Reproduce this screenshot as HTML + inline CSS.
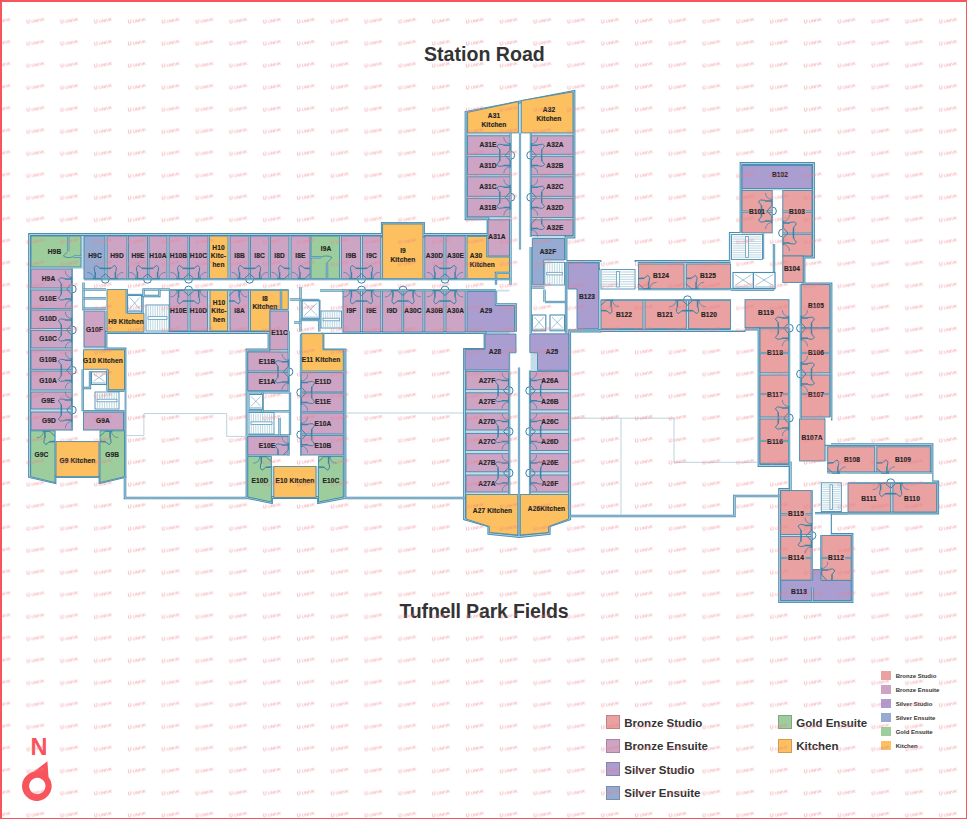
<!DOCTYPE html>
<html><head><meta charset="utf-8"><style>
html,body{margin:0;padding:0;background:#fff;}
body{width:967px;height:819px;position:relative;overflow:hidden;font-family:"Liberation Sans",sans-serif;}
.t{position:absolute;white-space:nowrap;color:#333;font-weight:bold;}
.border{position:absolute;left:0;top:0;width:967px;height:819px;box-sizing:border-box;border-left:2px solid #f7545c;border-top:2px solid #f7545c;border-right:1.5px solid #f7545c;border-bottom:1.5px solid #f7545c;}
</style></head><body>
<svg width="967" height="819" viewBox="0 0 967 819" style="position:absolute;left:0;top:0">
<polygon points="29.5,234.5 488,234.5 488,218.8 466,218.8 466,112.3 574,91.5 574,237 566,237 566,261.5 600,261.5 600,268.5 636,268.5 636,261.5 730.3,261.5 730.3,233.5 741,233.5 741,163.5 813.5,163.5 813.5,257 804,257 804,284 831,284 831,419 826,419 826,444.6 932,444.6 932,482 937.7,482 937.7,513 830.5,513 830.5,534.5 852,534.5 852,601.7 779.6,601.7 779.6,489.5 790,489.5 790,465.5 759,465.5 759,329 744,329 744,330.5 600,330.5 600,331 569.7,331 569.7,519 549.2,526 549.2,533.5 519,536.5 488.8,533.5 488.8,526 464.5,519 464.5,349.5 485,349.5 485,332.5 323,332.5 323,350 345,350 345,497.5 318.5,502.5 318.5,497.5 271.5,497.5 271.5,502.5 247,497.5 247,350 269,350 269,332.5 106,332.5 106,349 125,349 125,476.7 100,482.6 100,476.7 55,476.7 55,482.6 29.5,476.7" fill="#c3dce7" stroke="#4a8db0" stroke-width="2.8" stroke-linejoin="miter"/>
<polygon points="382.3,223.3 423.5,223.3 423.5,236 382.3,236" fill="#c3dce7" stroke="#4a8db0" stroke-width="2.8" stroke-linejoin="miter"/>
<polygon points="29.5,234.5 488,234.5 488,218.8 466,218.8 466,112.3 574,91.5 574,237 566,237 566,261.5 600,261.5 600,268.5 636,268.5 636,261.5 730.3,261.5 730.3,233.5 741,233.5 741,163.5 813.5,163.5 813.5,257 804,257 804,284 831,284 831,419 826,419 826,444.6 932,444.6 932,482 937.7,482 937.7,513 830.5,513 830.5,534.5 852,534.5 852,601.7 779.6,601.7 779.6,489.5 790,489.5 790,465.5 759,465.5 759,329 744,329 744,330.5 600,330.5 600,331 569.7,331 569.7,519 549.2,526 549.2,533.5 519,536.5 488.8,533.5 488.8,526 464.5,519 464.5,349.5 485,349.5 485,332.5 323,332.5 323,350 345,350 345,497.5 318.5,502.5 318.5,497.5 271.5,497.5 271.5,502.5 247,497.5 247,350 269,350 269,332.5 106,332.5 106,349 125,349 125,476.7 100,482.6 100,476.7 55,476.7 55,482.6 29.5,476.7" fill="none" stroke="#b9d6e3" stroke-width="0.9" stroke-linejoin="miter"/>
<polygon points="382.3,223.3 423.5,223.3 423.5,236 382.3,236" fill="none" stroke="#b9d6e3" stroke-width="0.9" stroke-linejoin="miter"/>
<rect x="72" y="279.6" width="438.5" height="10.2" fill="#fff"/>
<rect x="72" y="269" width="11.5" height="172" fill="#fff"/>
<rect x="56" y="430.5" width="44" height="11.1" fill="#fff"/>
<rect x="84" y="289.8" width="23" height="21.2" fill="#fff"/>
<rect x="127.5" y="289.8" width="41" height="23.7" fill="#fff"/>
<rect x="144" y="313.5" width="24.5" height="18.5" fill="#fff"/>
<rect x="83.5" y="369.3" width="24.5" height="42.2" fill="#fff"/>
<rect x="108" y="389.8" width="16.5" height="21.7" fill="#fff"/>
<rect x="288.5" y="289.8" width="54" height="42.7" fill="#fff"/>
<rect x="288.7" y="331" width="12.3" height="135" fill="#fff"/>
<rect x="247.8" y="391" width="43.2" height="45" fill="#fff"/>
<rect x="271.5" y="455" width="47" height="11.4" fill="#fff"/>
<rect x="510.5" y="133" width="20" height="361.3" fill="#fff"/>
<rect x="509.5" y="218.8" width="22.8" height="115.2" fill="#fff"/>
<rect x="496" y="291.4" width="14.5" height="13.6" fill="#fff"/>
<rect x="532" y="285" width="34" height="49" fill="#fff"/>
<rect x="543.7" y="260" width="22.3" height="25" fill="#fff"/>
<rect x="568" y="289" width="9" height="40" fill="#fff"/>
<rect x="600" y="289" width="177" height="10.7" fill="#fff"/>
<rect x="600" y="262" width="38" height="38" fill="#fff"/>
<rect x="730.6" y="262" width="14.4" height="37.7" fill="#fff"/>
<rect x="772.2" y="190.4" width="10.6" height="109.3" fill="#fff"/>
<rect x="730.5" y="233" width="41.7" height="29" fill="#fff"/>
<rect x="789" y="284" width="11.8" height="182" fill="#fff"/>
<rect x="826" y="473.5" width="106" height="9.5" fill="#fff"/>
<rect x="730.6" y="299.7" width="14.4" height="30.3" fill="#fff"/>
<rect x="745" y="259.4" width="28" height="13.1" fill="#fff"/>
<rect x="782" y="282.4" width="18.8" height="17.6" fill="#fff"/>
<rect x="789" y="419" width="10.6" height="47" fill="#fff"/>
<rect x="790" y="461" width="57" height="22" fill="#fff"/>
<rect x="825" y="417" width="6" height="27.6" fill="#fff"/>
<rect x="811.7" y="483" width="9.6" height="86.6" fill="#fff"/>
<rect x="790" y="483" width="31.3" height="7.6" fill="#fff"/>
<rect x="841.6" y="483" width="6.4" height="30" fill="#fff"/>
<rect x="821.3" y="511.5" width="9.2" height="23.9" fill="#fff"/>
<rect x="31" y="236" width="50" height="31" fill="#9dcd9c" stroke="#3f88ab" stroke-width="0.85"/>
<rect x="84" y="236" width="21" height="42.8" fill="#97abd2" stroke="#3f88ab" stroke-width="0.85"/>
<rect x="107" y="236" width="20" height="42.8" fill="#cea4c5" stroke="#3f88ab" stroke-width="0.85"/>
<rect x="128.5" y="236" width="19" height="42.8" fill="#cea4c5" stroke="#3f88ab" stroke-width="0.85"/>
<rect x="149" y="236" width="18" height="42.8" fill="#cea4c5" stroke="#3f88ab" stroke-width="0.85"/>
<rect x="169" y="236" width="19" height="42.8" fill="#cea4c5" stroke="#3f88ab" stroke-width="0.85"/>
<rect x="189.5" y="236" width="18.5" height="42.8" fill="#cea4c5" stroke="#3f88ab" stroke-width="0.85"/>
<rect x="209.5" y="236" width="18.5" height="42.8" fill="#fcc060" stroke="#3f88ab" stroke-width="0.85"/>
<rect x="230" y="236" width="19" height="42.8" fill="#cea4c5" stroke="#3f88ab" stroke-width="0.85"/>
<rect x="250.5" y="236" width="18.5" height="42.8" fill="#cea4c5" stroke="#3f88ab" stroke-width="0.85"/>
<rect x="270.5" y="236" width="18.5" height="42.8" fill="#cea4c5" stroke="#3f88ab" stroke-width="0.85"/>
<rect x="291" y="236" width="19" height="42.8" fill="#cea4c5" stroke="#3f88ab" stroke-width="0.85"/>
<rect x="311" y="236" width="28.5" height="42.8" fill="#9dcd9c" stroke="#3f88ab" stroke-width="0.85"/>
<rect x="341.3" y="236" width="19.3" height="42.8" fill="#cea4c5" stroke="#3f88ab" stroke-width="0.85"/>
<rect x="362.4" y="236" width="18.4" height="42.8" fill="#cea4c5" stroke="#3f88ab" stroke-width="0.85"/>
<rect x="382.6" y="224" width="40.4" height="54.8" fill="#fcc060" stroke="#3f88ab" stroke-width="0.85"/>
<rect x="424.8" y="236" width="19.2" height="42.8" fill="#cea4c5" stroke="#3f88ab" stroke-width="0.85"/>
<rect x="445.9" y="236" width="19.3" height="42.8" fill="#cea4c5" stroke="#3f88ab" stroke-width="0.85"/>
<polygon points="467,236.4 486.7,236.4 486.7,257 509.5,257 509.5,278.8 467,278.8" fill="#fcc060" stroke="#3f88ab" stroke-width="0.85"/>
<rect x="488" y="219.8" width="21.6" height="36.2" fill="#cea4c5" stroke="#3f88ab" stroke-width="0.85"/>
<rect x="31" y="269" width="41" height="19" fill="#cea4c5" stroke="#3f88ab" stroke-width="0.85"/>
<rect x="31" y="290" width="41" height="18.6" fill="#cea4c5" stroke="#3f88ab" stroke-width="0.85"/>
<rect x="31" y="310" width="41" height="18.5" fill="#cea4c5" stroke="#3f88ab" stroke-width="0.85"/>
<rect x="31" y="330.5" width="41" height="17.5" fill="#cea4c5" stroke="#3f88ab" stroke-width="0.85"/>
<rect x="31" y="350" width="41" height="19.3" fill="#cea4c5" stroke="#3f88ab" stroke-width="0.85"/>
<rect x="31" y="371" width="41" height="19" fill="#cea4c5" stroke="#3f88ab" stroke-width="0.85"/>
<rect x="31" y="392" width="41" height="17" fill="#cea4c5" stroke="#3f88ab" stroke-width="0.85"/>
<rect x="31" y="412" width="41" height="18" fill="#cea4c5" stroke="#3f88ab" stroke-width="0.85"/>
<rect x="84" y="311" width="21" height="36" fill="#cea4c5" stroke="#3f88ab" stroke-width="0.85"/>
<polygon points="107,289.5 127.5,289.5 127.5,313.5 144,313.5 144,332 107,332" fill="#fcc060" stroke="#3f88ab" stroke-width="0.85"/>
<rect x="169.7" y="290" width="18.3" height="41" fill="#cea4c5" stroke="#3f88ab" stroke-width="0.85"/>
<rect x="190" y="290" width="17.5" height="41" fill="#cea4c5" stroke="#3f88ab" stroke-width="0.85"/>
<rect x="210" y="290" width="17.7" height="41" fill="#fcc060" stroke="#3f88ab" stroke-width="0.85"/>
<rect x="230" y="290" width="18.7" height="41" fill="#cea4c5" stroke="#3f88ab" stroke-width="0.85"/>
<polygon points="250.5,290 288.3,290 288.3,309.5 270,309.5 270,331 250.5,331" fill="#fcc060" stroke="#3f88ab" stroke-width="0.85"/>
<rect x="270" y="311" width="18.5" height="38.8" fill="#cea4c5" stroke="#3f88ab" stroke-width="0.85"/>
<rect x="343" y="290.6" width="17.6" height="41.4" fill="#cea4c5" stroke="#3f88ab" stroke-width="0.85"/>
<rect x="362.4" y="290.6" width="18.4" height="41.4" fill="#cea4c5" stroke="#3f88ab" stroke-width="0.85"/>
<rect x="382.6" y="290.6" width="19.4" height="41.4" fill="#cea4c5" stroke="#3f88ab" stroke-width="0.85"/>
<rect x="403.7" y="290.6" width="19.3" height="41.4" fill="#cea4c5" stroke="#3f88ab" stroke-width="0.85"/>
<rect x="424.8" y="290.6" width="19.2" height="41.4" fill="#cea4c5" stroke="#3f88ab" stroke-width="0.85"/>
<rect x="445.9" y="290.6" width="19.3" height="41.4" fill="#cea4c5" stroke="#3f88ab" stroke-width="0.85"/>
<polygon points="467,291.4 496,291.4 496,305 514.5,305 514.5,331.8 467,331.8" fill="#aa9dd0" stroke="#3f88ab" stroke-width="0.85"/>
<polygon points="83.5,349.8 124.5,349.8 124.5,389.8 108,389.8 108,369.3 83.5,369.3" fill="#fcc060" stroke="#3f88ab" stroke-width="0.85"/>
<rect x="83.5" y="412" width="40" height="18" fill="#cea4c5" stroke="#3f88ab" stroke-width="0.85"/>
<polygon points="30.7,430.8 55,430.8 55,482.6 30.7,476.7" fill="#9dcd9c" stroke="#3f88ab" stroke-width="0.85"/>
<rect x="56" y="441.6" width="43" height="35.1" fill="#fcc060" stroke="#3f88ab" stroke-width="0.85"/>
<polygon points="100,430.8 124.5,430.8 124.5,476.7 100,482.6" fill="#9dcd9c" stroke="#3f88ab" stroke-width="0.85"/>
<rect x="247.8" y="352" width="40.9" height="19" fill="#cea4c5" stroke="#3f88ab" stroke-width="0.85"/>
<rect x="247.8" y="372.6" width="40.9" height="18.1" fill="#cea4c5" stroke="#3f88ab" stroke-width="0.85"/>
<rect x="247.8" y="436.6" width="40.9" height="18.4" fill="#cea4c5" stroke="#3f88ab" stroke-width="0.85"/>
<polygon points="247.8,456.5 271.4,456.5 271.4,502 247.8,497" fill="#9dcd9c" stroke="#3f88ab" stroke-width="0.85"/>
<rect x="273.8" y="466.4" width="42.2" height="31" fill="#fcc060" stroke="#3f88ab" stroke-width="0.85"/>
<polygon points="318.5,456.5 343.3,456.5 343.3,497 318.5,502" fill="#9dcd9c" stroke="#3f88ab" stroke-width="0.85"/>
<polygon points="301,333.6 323,333.6 323,349.8 343.3,349.8 343.3,371 301,371" fill="#fcc060" stroke="#3f88ab" stroke-width="0.85"/>
<rect x="301" y="372.6" width="42.3" height="19.4" fill="#cea4c5" stroke="#3f88ab" stroke-width="0.85"/>
<rect x="301" y="393" width="42.3" height="18.8" fill="#cea4c5" stroke="#3f88ab" stroke-width="0.85"/>
<rect x="301" y="413" width="42.3" height="21" fill="#cea4c5" stroke="#3f88ab" stroke-width="0.85"/>
<rect x="301" y="435.4" width="42.3" height="19.6" fill="#cea4c5" stroke="#3f88ab" stroke-width="0.85"/>
<polygon points="467.6,112.3 518.4,101.6 518.4,132.9 467.6,132.9" fill="#fcc060" stroke="#3f88ab" stroke-width="0.85"/>
<polygon points="521.3,100.6 573,91.8 573,132.9 521.3,132.9" fill="#fcc060" stroke="#3f88ab" stroke-width="0.85"/>
<rect x="467.6" y="135.8" width="42.9" height="18.5" fill="#cea4c5" stroke="#3f88ab" stroke-width="0.85"/>
<rect x="467.6" y="156.3" width="42.9" height="18.5" fill="#cea4c5" stroke="#3f88ab" stroke-width="0.85"/>
<rect x="467.6" y="176.8" width="42.9" height="19.5" fill="#cea4c5" stroke="#3f88ab" stroke-width="0.85"/>
<rect x="467.6" y="198.3" width="42.9" height="18.5" fill="#cea4c5" stroke="#3f88ab" stroke-width="0.85"/>
<rect x="531" y="135.8" width="42" height="18.5" fill="#cea4c5" stroke="#3f88ab" stroke-width="0.85"/>
<rect x="531" y="156.3" width="42" height="18.5" fill="#cea4c5" stroke="#3f88ab" stroke-width="0.85"/>
<rect x="531" y="176.8" width="42" height="19.5" fill="#cea4c5" stroke="#3f88ab" stroke-width="0.85"/>
<rect x="531" y="198.3" width="42" height="19.2" fill="#cea4c5" stroke="#3f88ab" stroke-width="0.85"/>
<rect x="531" y="219.8" width="42" height="15.6" fill="#cea4c5" stroke="#3f88ab" stroke-width="0.85"/>
<polygon points="532.3,238.5 564.5,238.5 564.5,260 543.7,260 543.7,285 532.3,285" fill="#97abd2" stroke="#3f88ab" stroke-width="0.85"/>
<polygon points="485,334 516,334 516,352.8 509.3,352.8 509.3,370 465,370 465,349.5 485,349.5" fill="#aa9dd0" stroke="#3f88ab" stroke-width="0.85"/>
<polygon points="529.8,333.8 568.8,333.8 568.8,370.3 537.5,370.3 537.5,352.6 529.8,352.6" fill="#aa9dd0" stroke="#3f88ab" stroke-width="0.85"/>
<rect x="466" y="371.4" width="42.8" height="18.2" fill="#cea4c5" stroke="#3f88ab" stroke-width="0.85"/>
<rect x="466" y="392.8" width="42.8" height="17.1" fill="#cea4c5" stroke="#3f88ab" stroke-width="0.85"/>
<rect x="466" y="413" width="42.8" height="17" fill="#cea4c5" stroke="#3f88ab" stroke-width="0.85"/>
<rect x="466" y="433.4" width="42.8" height="17.1" fill="#cea4c5" stroke="#3f88ab" stroke-width="0.85"/>
<rect x="466" y="453.7" width="42.8" height="18.1" fill="#cea4c5" stroke="#3f88ab" stroke-width="0.85"/>
<rect x="466" y="475" width="42.8" height="17" fill="#cea4c5" stroke="#3f88ab" stroke-width="0.85"/>
<rect x="530" y="371.4" width="38.6" height="18.2" fill="#cea4c5" stroke="#3f88ab" stroke-width="0.85"/>
<rect x="530" y="392.8" width="38.6" height="17.1" fill="#cea4c5" stroke="#3f88ab" stroke-width="0.85"/>
<rect x="530" y="413" width="38.6" height="17" fill="#cea4c5" stroke="#3f88ab" stroke-width="0.85"/>
<rect x="530" y="433.4" width="38.6" height="17.1" fill="#cea4c5" stroke="#3f88ab" stroke-width="0.85"/>
<rect x="530" y="453.7" width="38.6" height="18.1" fill="#cea4c5" stroke="#3f88ab" stroke-width="0.85"/>
<rect x="530" y="475" width="38.6" height="17" fill="#cea4c5" stroke="#3f88ab" stroke-width="0.85"/>
<polygon points="466,494.5 517.8,494.5 517.8,535 489.3,532.5 489.3,526.5 466,519" fill="#fcc060" stroke="#3f88ab" stroke-width="0.85"/>
<polygon points="520.3,494.5 568.6,494.5 568.6,519 548.7,526.5 548.7,532.5 520.3,535" fill="#fcc060" stroke="#3f88ab" stroke-width="0.85"/>
<polygon points="568,262.8 598.7,262.8 598.7,328.7 577,328.7 577,289 568,289" fill="#aa9dd0" stroke="#3f88ab" stroke-width="0.85"/>
<rect x="638.5" y="264" width="45.5" height="25" fill="#e9a1a1" stroke="#3f88ab" stroke-width="0.85"/>
<rect x="686.3" y="264" width="44.3" height="25" fill="#e9a1a1" stroke="#3f88ab" stroke-width="0.85"/>
<rect x="601" y="300" width="42" height="28.7" fill="#e9a1a1" stroke="#3f88ab" stroke-width="0.85"/>
<rect x="645" y="300" width="41.3" height="28.7" fill="#e9a1a1" stroke="#3f88ab" stroke-width="0.85"/>
<rect x="688.6" y="300" width="42" height="28.7" fill="#e9a1a1" stroke="#3f88ab" stroke-width="0.85"/>
<rect x="742" y="165.6" width="70" height="23" fill="#aa9dd0" stroke="#3f88ab" stroke-width="0.85"/>
<rect x="742" y="190.4" width="30.2" height="42.5" fill="#e9a1a1" stroke="#3f88ab" stroke-width="0.85"/>
<rect x="782.8" y="190.4" width="29.2" height="65.6" fill="#e9a1a1" stroke="#3f88ab" stroke-width="0.85"/>
<rect x="782.8" y="256" width="20.4" height="26.4" fill="#e9a1a1" stroke="#3f88ab" stroke-width="0.85"/>
<rect x="745" y="299.7" width="44" height="27.9" fill="#e9a1a1" stroke="#3f88ab" stroke-width="0.85"/>
<rect x="760" y="328.7" width="29" height="44.1" fill="#e9a1a1" stroke="#3f88ab" stroke-width="0.85"/>
<rect x="760" y="375" width="29" height="42" fill="#e9a1a1" stroke="#3f88ab" stroke-width="0.85"/>
<rect x="760" y="419" width="29" height="44.3" fill="#e9a1a1" stroke="#3f88ab" stroke-width="0.85"/>
<rect x="800.8" y="284.6" width="29" height="43" fill="#e9a1a1" stroke="#3f88ab" stroke-width="0.85"/>
<rect x="800.8" y="328.7" width="29" height="44.1" fill="#e9a1a1" stroke="#3f88ab" stroke-width="0.85"/>
<rect x="800.8" y="375" width="29" height="42" fill="#e9a1a1" stroke="#3f88ab" stroke-width="0.85"/>
<rect x="799.6" y="419" width="25.4" height="42" fill="#e9a1a1" stroke="#3f88ab" stroke-width="0.85"/>
<rect x="827.7" y="446.8" width="47" height="25.7" fill="#e9a1a1" stroke="#3f88ab" stroke-width="0.85"/>
<rect x="876.8" y="446.8" width="53.5" height="25.7" fill="#e9a1a1" stroke="#3f88ab" stroke-width="0.85"/>
<rect x="848" y="483" width="42.7" height="29" fill="#e9a1a1" stroke="#3f88ab" stroke-width="0.85"/>
<rect x="892.9" y="483" width="43.8" height="29" fill="#e9a1a1" stroke="#3f88ab" stroke-width="0.85"/>
<rect x="780.7" y="490.6" width="31" height="43.8" fill="#e9a1a1" stroke="#3f88ab" stroke-width="0.85"/>
<rect x="780.7" y="536.5" width="31" height="43.8" fill="#e9a1a1" stroke="#3f88ab" stroke-width="0.85"/>
<polygon points="780.7,580.3 812.7,580.3 812.7,569.6 821.3,569.6 821.3,580.3 851.2,580.3 851.2,600.6 780.7,600.6" fill="#aa9dd0" stroke="#3f88ab" stroke-width="0.85"/>
<rect x="821.3" y="535.4" width="29.9" height="44.9" fill="#e9a1a1" stroke="#3f88ab" stroke-width="0.85"/>
<polyline points="125,476.7 125,498 247,498" fill="none" stroke="#4a8db0" stroke-width="2.6"/>
<polyline points="125,476.7 125,498 247,498" fill="none" stroke="#b9d6e3" stroke-width="0.9"/>
<polyline points="345,498 464.5,498" fill="none" stroke="#4a8db0" stroke-width="2.6"/>
<polyline points="345,498 464.5,498" fill="none" stroke="#b9d6e3" stroke-width="0.9"/>
<polyline points="569.7,516 734.4,516 734.4,496 779.6,496" fill="none" stroke="#4a8db0" stroke-width="2.6"/>
<polyline points="569.7,516 734.4,516 734.4,496 779.6,496" fill="none" stroke="#b9d6e3" stroke-width="0.9"/>
<polyline points="126.5,435.6 143.9,435.6 143.9,413.6 226.7,413.6 226.7,436.4 247,436.4" fill="none" stroke="#bcd3dc" stroke-width="1"/>
<polyline points="346,413 463,413" fill="none" stroke="#bcd3dc" stroke-width="1"/>
<polyline points="571,418.2 674,418.2 674,462.3 758,462.3" fill="none" stroke="#bcd3dc" stroke-width="1"/>
<polyline points="621,418.2 621,515" fill="none" stroke="#bcd3dc" stroke-width="1"/>
<polyline points="812.4,587.4 812.4,601" fill="none" stroke="#3f88ab" stroke-width="2.3"/>
<polyline points="812.4,587.4 812.4,601" fill="none" stroke="#cfe4ee" stroke-width="0.7"/>
<polyline points="790.5,461.6 790.5,490" fill="none" stroke="#3f88ab" stroke-width="2.3"/>
<polyline points="790.5,461.6 790.5,490" fill="none" stroke="#cfe4ee" stroke-width="0.7"/>
<polyline points="815,513.2 848,513.2" fill="none" stroke="#3f88ab" stroke-width="2.3"/>
<polyline points="815,513.2 848,513.2" fill="none" stroke="#cfe4ee" stroke-width="0.7"/>
<polyline points="310.5,257.2 321,257.2" fill="none" stroke="#3f88ab" stroke-width="2.3"/>
<polyline points="310.5,257.2 321,257.2" fill="none" stroke="#cfe4ee" stroke-width="0.7"/>
<polyline points="327,263 327,278.5" fill="none" stroke="#3f88ab" stroke-width="2.3"/>
<polyline points="327,263 327,278.5" fill="none" stroke="#cfe4ee" stroke-width="0.7"/>
<polyline points="68.2,236 68.2,251" fill="none" stroke="#3f88ab" stroke-width="2.3"/>
<polyline points="68.2,236 68.2,251" fill="none" stroke="#cfe4ee" stroke-width="0.7"/>
<polyline points="73.5,256.6 81,256.6" fill="none" stroke="#3f88ab" stroke-width="2.3"/>
<polyline points="73.5,256.6 81,256.6" fill="none" stroke="#cfe4ee" stroke-width="0.7"/>
<polyline points="530.7,287.5 544.5,287.5" fill="none" stroke="#3f88ab" stroke-width="2.3"/>
<polyline points="530.7,287.5 544.5,287.5" fill="none" stroke="#cfe4ee" stroke-width="0.7"/>
<polyline points="544.5,289.6 544.5,302" fill="none" stroke="#3f88ab" stroke-width="2.3"/>
<polyline points="544.5,289.6 544.5,302" fill="none" stroke="#cfe4ee" stroke-width="0.7"/>
<polyline points="545,302 566,302" fill="none" stroke="#3f88ab" stroke-width="2.3"/>
<polyline points="545,302 566,302" fill="none" stroke="#cfe4ee" stroke-width="0.7"/>
<polyline points="566,262 566,333" fill="none" stroke="#3f88ab" stroke-width="2.3"/>
<polyline points="566,262 566,333" fill="none" stroke="#cfe4ee" stroke-width="0.7"/>
<polyline points="300.5,287 300.5,331.5" fill="none" stroke="#3f88ab" stroke-width="2.3"/>
<polyline points="300.5,287 300.5,331.5" fill="none" stroke="#cfe4ee" stroke-width="0.7"/>
<polyline points="319.3,300 319.3,331.5" fill="none" stroke="#3f88ab" stroke-width="2.3"/>
<polyline points="319.3,300 319.3,331.5" fill="none" stroke="#cfe4ee" stroke-width="0.7"/>
<polyline points="320,290.5 343,290.5" fill="none" stroke="#3f88ab" stroke-width="2.3"/>
<polyline points="320,290.5 343,290.5" fill="none" stroke="#cfe4ee" stroke-width="0.7"/>
<polyline points="289.8,299.5 300.5,299.5" fill="none" stroke="#3f88ab" stroke-width="2.3"/>
<polyline points="289.8,299.5 300.5,299.5" fill="none" stroke="#cfe4ee" stroke-width="0.7"/>
<polyline points="300.5,300 319.3,300" fill="none" stroke="#3f88ab" stroke-width="2.3"/>
<polyline points="300.5,300 319.3,300" fill="none" stroke="#cfe4ee" stroke-width="0.7"/>
<polyline points="300.5,320 319.3,320" fill="none" stroke="#3f88ab" stroke-width="2.3"/>
<polyline points="300.5,320 319.3,320" fill="none" stroke="#cfe4ee" stroke-width="0.7"/>
<polyline points="294,322.5 300.5,322.5" fill="none" stroke="#3f88ab" stroke-width="2.3"/>
<polyline points="294,322.5 300.5,322.5" fill="none" stroke="#cfe4ee" stroke-width="0.7"/>
<polyline points="82.7,369.3 82.7,411" fill="none" stroke="#3f88ab" stroke-width="2.3"/>
<polyline points="82.7,369.3 82.7,411" fill="none" stroke="#cfe4ee" stroke-width="0.7"/>
<polyline points="107.5,369.8 107.5,391" fill="none" stroke="#3f88ab" stroke-width="2.3"/>
<polyline points="107.5,369.8 107.5,391" fill="none" stroke="#cfe4ee" stroke-width="0.7"/>
<polyline points="107.5,390.8 124.5,390.8" fill="none" stroke="#3f88ab" stroke-width="2.3"/>
<polyline points="107.5,390.8 124.5,390.8" fill="none" stroke="#cfe4ee" stroke-width="0.7"/>
<polyline points="82.7,411.2 124.5,411.2" fill="none" stroke="#3f88ab" stroke-width="2.3"/>
<polyline points="82.7,411.2 124.5,411.2" fill="none" stroke="#cfe4ee" stroke-width="0.7"/>
<polyline points="82.7,388 90,388 90,371" fill="none" stroke="#3f88ab" stroke-width="2.3"/>
<polyline points="82.7,388 90,388 90,371" fill="none" stroke="#cfe4ee" stroke-width="0.7"/>
<polyline points="290,392.4 290,435" fill="none" stroke="#3f88ab" stroke-width="2.3"/>
<polyline points="290,392.4 290,435" fill="none" stroke="#cfe4ee" stroke-width="0.7"/>
<polyline points="248,392.4 290,392.4" fill="none" stroke="#3f88ab" stroke-width="2.3"/>
<polyline points="248,392.4 290,392.4" fill="none" stroke="#cfe4ee" stroke-width="0.7"/>
<polyline points="248,411.4 290,411.4" fill="none" stroke="#3f88ab" stroke-width="2.3"/>
<polyline points="248,411.4 290,411.4" fill="none" stroke="#cfe4ee" stroke-width="0.7"/>
<polyline points="248,435.3 290,435.3" fill="none" stroke="#3f88ab" stroke-width="2.3"/>
<polyline points="248,435.3 290,435.3" fill="none" stroke="#cfe4ee" stroke-width="0.7"/>
<polyline points="262.5,392.4 262.5,411.4" fill="none" stroke="#3f88ab" stroke-width="2.3"/>
<polyline points="262.5,392.4 262.5,411.4" fill="none" stroke="#cfe4ee" stroke-width="0.7"/>
<polyline points="279.5,418 279.5,435.3" fill="none" stroke="#3f88ab" stroke-width="2.3"/>
<polyline points="279.5,418 279.5,435.3" fill="none" stroke="#cfe4ee" stroke-width="0.7"/>
<polyline points="83.5,282.5 83.5,310.5" fill="none" stroke="#3f88ab" stroke-width="2.3"/>
<polyline points="83.5,282.5 83.5,310.5" fill="none" stroke="#cfe4ee" stroke-width="0.7"/>
<polyline points="83.5,289.5 106,289.5" fill="none" stroke="#3f88ab" stroke-width="2.3"/>
<polyline points="83.5,289.5 106,289.5" fill="none" stroke="#cfe4ee" stroke-width="0.7"/>
<polyline points="83.5,298.4 106,298.4" fill="none" stroke="#3f88ab" stroke-width="2.3"/>
<polyline points="83.5,298.4 106,298.4" fill="none" stroke="#cfe4ee" stroke-width="0.7"/>
<polyline points="83.5,308.6 106,308.6" fill="none" stroke="#3f88ab" stroke-width="2.3"/>
<polyline points="83.5,308.6 106,308.6" fill="none" stroke="#cfe4ee" stroke-width="0.7"/>
<polyline points="126.8,289.5 126.8,313.5" fill="none" stroke="#3f88ab" stroke-width="2.3"/>
<polyline points="126.8,289.5 126.8,313.5" fill="none" stroke="#cfe4ee" stroke-width="0.7"/>
<polyline points="127,295 142.5,295" fill="none" stroke="#3f88ab" stroke-width="2.3"/>
<polyline points="127,295 142.5,295" fill="none" stroke="#cfe4ee" stroke-width="0.7"/>
<polyline points="142.5,295 142.5,313.5" fill="none" stroke="#3f88ab" stroke-width="2.3"/>
<polyline points="142.5,295 142.5,313.5" fill="none" stroke="#cfe4ee" stroke-width="0.7"/>
<polyline points="142.5,289.5 170,289.5" fill="none" stroke="#3f88ab" stroke-width="2.3"/>
<polyline points="142.5,289.5 170,289.5" fill="none" stroke="#cfe4ee" stroke-width="0.7"/>
<polyline points="143.5,289.5 143.5,296 159.4,296 159.4,289.5" fill="none" stroke="#3f88ab" stroke-width="2.3"/>
<polyline points="143.5,289.5 143.5,296 159.4,296 159.4,289.5" fill="none" stroke="#cfe4ee" stroke-width="0.7"/>
<polyline points="731,289.5 774,289.5" fill="none" stroke="#3f88ab" stroke-width="2.3"/>
<polyline points="731,289.5 774,289.5" fill="none" stroke="#cfe4ee" stroke-width="0.7"/>
<polyline points="774,244 774,289.5" fill="none" stroke="#3f88ab" stroke-width="2.3"/>
<polyline points="774,244 774,289.5" fill="none" stroke="#cfe4ee" stroke-width="0.7"/>
<polyline points="763,233.5 763,259" fill="none" stroke="#3f88ab" stroke-width="2.3"/>
<polyline points="763,233.5 763,259" fill="none" stroke="#cfe4ee" stroke-width="0.7"/>
<polyline points="281,290 281,309.5" fill="none" stroke="#3f88ab" stroke-width="2.3"/>
<polyline points="281,290 281,309.5" fill="none" stroke="#cfe4ee" stroke-width="0.7"/>
<polyline points="530.7,247 530.7,333" fill="none" stroke="#3f88ab" stroke-width="2.3"/>
<polyline points="530.7,247 530.7,333" fill="none" stroke="#cfe4ee" stroke-width="0.7"/>
<polyline points="510.5,218.8 510.5,284.7" fill="none" stroke="#3f88ab" stroke-width="2.3"/>
<polyline points="510.5,218.8 510.5,284.7" fill="none" stroke="#cfe4ee" stroke-width="0.7"/>
<polyline points="496,284.7 496,272.9 509.6,272.9" fill="none" stroke="#3f88ab" stroke-width="2.3"/>
<polyline points="496,284.7 496,272.9 509.6,272.9" fill="none" stroke="#cfe4ee" stroke-width="0.7"/>
<polyline points="496,291 496,304.5 515.8,304.5 515.8,332" fill="none" stroke="#3f88ab" stroke-width="2.3"/>
<polyline points="496,291 496,304.5 515.8,304.5 515.8,332" fill="none" stroke="#cfe4ee" stroke-width="0.7"/>
<polyline points="288.7,331 288.7,352" fill="none" stroke="#3f88ab" stroke-width="2.3"/>
<polyline points="288.7,331 288.7,352" fill="none" stroke="#cfe4ee" stroke-width="0.7"/>
<polyline points="301,334 301,372" fill="none" stroke="#3f88ab" stroke-width="2.3"/>
<polyline points="301,334 301,372" fill="none" stroke="#cfe4ee" stroke-width="0.7"/>
<polyline points="84,279.2 510.5,279.2" fill="none" stroke="#3f88ab" stroke-width="2.0"/>
<polyline points="84,279.2 510.5,279.2" fill="none" stroke="#d5e8f0" stroke-width="0.55"/>
<polyline points="169,290 288.5,290" fill="none" stroke="#3f88ab" stroke-width="2.0"/>
<polyline points="169,290 288.5,290" fill="none" stroke="#d5e8f0" stroke-width="0.55"/>
<polyline points="342.5,290.3 496,290.3" fill="none" stroke="#3f88ab" stroke-width="2.0"/>
<polyline points="342.5,290.3 496,290.3" fill="none" stroke="#d5e8f0" stroke-width="0.55"/>
<polyline points="72,268.5 72,430.5" fill="none" stroke="#3f88ab" stroke-width="2.0"/>
<polyline points="72,268.5 72,430.5" fill="none" stroke="#d5e8f0" stroke-width="0.55"/>
<polyline points="288.7,352 288.7,391" fill="none" stroke="#3f88ab" stroke-width="2.0"/>
<polyline points="288.7,352 288.7,391" fill="none" stroke="#d5e8f0" stroke-width="0.55"/>
<polyline points="288.7,436 288.7,455.5" fill="none" stroke="#3f88ab" stroke-width="2.0"/>
<polyline points="288.7,436 288.7,455.5" fill="none" stroke="#d5e8f0" stroke-width="0.55"/>
<polyline points="301,372 301,455.5" fill="none" stroke="#3f88ab" stroke-width="2.0"/>
<polyline points="301,372 301,455.5" fill="none" stroke="#d5e8f0" stroke-width="0.55"/>
<polyline points="510.6,133 510.6,218" fill="none" stroke="#3f88ab" stroke-width="2.0"/>
<polyline points="510.6,133 510.6,218" fill="none" stroke="#d5e8f0" stroke-width="0.55"/>
<polyline points="530.8,133 530.8,237" fill="none" stroke="#3f88ab" stroke-width="2.0"/>
<polyline points="530.8,133 530.8,237" fill="none" stroke="#d5e8f0" stroke-width="0.55"/>
<polyline points="509.2,370.5 509.2,494.5" fill="none" stroke="#3f88ab" stroke-width="2.0"/>
<polyline points="509.2,370.5 509.2,494.5" fill="none" stroke="#d5e8f0" stroke-width="0.55"/>
<polyline points="529.9,370.5 529.9,494.5" fill="none" stroke="#3f88ab" stroke-width="2.0"/>
<polyline points="529.9,370.5 529.9,494.5" fill="none" stroke="#d5e8f0" stroke-width="0.55"/>
<polyline points="638,289.2 731,289.2" fill="none" stroke="#3f88ab" stroke-width="2.0"/>
<polyline points="638,289.2 731,289.2" fill="none" stroke="#d5e8f0" stroke-width="0.55"/>
<polyline points="601,299.9 731,299.9" fill="none" stroke="#3f88ab" stroke-width="2.0"/>
<polyline points="601,299.9 731,299.9" fill="none" stroke="#d5e8f0" stroke-width="0.55"/>
<polyline points="789.2,328 789.2,465.5" fill="none" stroke="#3f88ab" stroke-width="2.0"/>
<polyline points="789.2,328 789.2,465.5" fill="none" stroke="#d5e8f0" stroke-width="0.55"/>
<polyline points="800.7,284 800.7,419" fill="none" stroke="#3f88ab" stroke-width="2.0"/>
<polyline points="800.7,284 800.7,419" fill="none" stroke="#d5e8f0" stroke-width="0.55"/>
<polyline points="811.8,490 811.8,580.5" fill="none" stroke="#3f88ab" stroke-width="2.0"/>
<polyline points="811.8,490 811.8,580.5" fill="none" stroke="#d5e8f0" stroke-width="0.55"/>
<polyline points="821.2,535 821.2,580.5" fill="none" stroke="#3f88ab" stroke-width="2.0"/>
<polyline points="821.2,535 821.2,580.5" fill="none" stroke="#d5e8f0" stroke-width="0.55"/>
<polyline points="827.5,472.6 932,472.6" fill="none" stroke="#3f88ab" stroke-width="2.0"/>
<polyline points="827.5,472.6 932,472.6" fill="none" stroke="#d5e8f0" stroke-width="0.55"/>
<polyline points="848,482.9 937.5,482.9" fill="none" stroke="#3f88ab" stroke-width="2.0"/>
<polyline points="848,482.9 937.5,482.9" fill="none" stroke="#d5e8f0" stroke-width="0.55"/>
<line x1="742" y1="211.6" x2="748.5" y2="211.6" stroke="#3f88ab" stroke-width="2.1"/>
<line x1="742" y1="211.6" x2="748.5" y2="211.6" stroke="#cfe4ee" stroke-width="0.6"/>
<line x1="766.2" y1="211.6" x2="772.2" y2="211.6" stroke="#3f88ab" stroke-width="2.1"/>
<line x1="766.2" y1="211.6" x2="772.2" y2="211.6" stroke="#cfe4ee" stroke-width="0.6"/>
<line x1="782.8" y1="211.6" x2="789.3" y2="211.6" stroke="#3f88ab" stroke-width="2.1"/>
<line x1="782.8" y1="211.6" x2="789.3" y2="211.6" stroke="#cfe4ee" stroke-width="0.6"/>
<line x1="806" y1="211.6" x2="812" y2="211.6" stroke="#3f88ab" stroke-width="2.1"/>
<line x1="806" y1="211.6" x2="812" y2="211.6" stroke="#cfe4ee" stroke-width="0.6"/>
<line x1="760" y1="353" x2="766.5" y2="353" stroke="#3f88ab" stroke-width="2.1"/>
<line x1="760" y1="353" x2="766.5" y2="353" stroke="#cfe4ee" stroke-width="0.6"/>
<line x1="783" y1="353" x2="789" y2="353" stroke="#3f88ab" stroke-width="2.1"/>
<line x1="783" y1="353" x2="789" y2="353" stroke="#cfe4ee" stroke-width="0.6"/>
<line x1="760" y1="394" x2="766.5" y2="394" stroke="#3f88ab" stroke-width="2.1"/>
<line x1="760" y1="394" x2="766.5" y2="394" stroke="#cfe4ee" stroke-width="0.6"/>
<line x1="783" y1="394" x2="789" y2="394" stroke="#3f88ab" stroke-width="2.1"/>
<line x1="783" y1="394" x2="789" y2="394" stroke="#cfe4ee" stroke-width="0.6"/>
<line x1="760" y1="441" x2="766.5" y2="441" stroke="#3f88ab" stroke-width="2.1"/>
<line x1="760" y1="441" x2="766.5" y2="441" stroke="#cfe4ee" stroke-width="0.6"/>
<line x1="783" y1="441" x2="789" y2="441" stroke="#3f88ab" stroke-width="2.1"/>
<line x1="783" y1="441" x2="789" y2="441" stroke="#cfe4ee" stroke-width="0.6"/>
<line x1="800.8" y1="353" x2="807.3" y2="353" stroke="#3f88ab" stroke-width="2.1"/>
<line x1="800.8" y1="353" x2="807.3" y2="353" stroke="#cfe4ee" stroke-width="0.6"/>
<line x1="823.8" y1="353" x2="829.8" y2="353" stroke="#3f88ab" stroke-width="2.1"/>
<line x1="823.8" y1="353" x2="829.8" y2="353" stroke="#cfe4ee" stroke-width="0.6"/>
<line x1="800.8" y1="394" x2="807.3" y2="394" stroke="#3f88ab" stroke-width="2.1"/>
<line x1="800.8" y1="394" x2="807.3" y2="394" stroke="#cfe4ee" stroke-width="0.6"/>
<line x1="823.8" y1="394" x2="829.8" y2="394" stroke="#3f88ab" stroke-width="2.1"/>
<line x1="823.8" y1="394" x2="829.8" y2="394" stroke="#cfe4ee" stroke-width="0.6"/>
<line x1="780.7" y1="514.3" x2="787.2" y2="514.3" stroke="#3f88ab" stroke-width="2.1"/>
<line x1="780.7" y1="514.3" x2="787.2" y2="514.3" stroke="#cfe4ee" stroke-width="0.6"/>
<line x1="805.7" y1="514.3" x2="811.7" y2="514.3" stroke="#3f88ab" stroke-width="2.1"/>
<line x1="805.7" y1="514.3" x2="811.7" y2="514.3" stroke="#cfe4ee" stroke-width="0.6"/>
<line x1="780.7" y1="558" x2="787.2" y2="558" stroke="#3f88ab" stroke-width="2.1"/>
<line x1="780.7" y1="558" x2="787.2" y2="558" stroke="#cfe4ee" stroke-width="0.6"/>
<line x1="805.7" y1="558" x2="811.7" y2="558" stroke="#3f88ab" stroke-width="2.1"/>
<line x1="805.7" y1="558" x2="811.7" y2="558" stroke="#cfe4ee" stroke-width="0.6"/>
<line x1="821.3" y1="558" x2="827.8" y2="558" stroke="#3f88ab" stroke-width="2.1"/>
<line x1="821.3" y1="558" x2="827.8" y2="558" stroke="#cfe4ee" stroke-width="0.6"/>
<line x1="845.2" y1="558" x2="851.2" y2="558" stroke="#3f88ab" stroke-width="2.1"/>
<line x1="845.2" y1="558" x2="851.2" y2="558" stroke="#cfe4ee" stroke-width="0.6"/>
<polyline points="782.8,233.8 812,233.8" fill="none" stroke="#3f88ab" stroke-width="2.3"/>
<polyline points="782.8,233.8 812,233.8" fill="none" stroke="#cfe4ee" stroke-width="0.7"/>
<polyline points="520,133 520,249.5" fill="none" stroke="#4a8db0" stroke-width="2.2"/>
<polyline points="520,133 520,249.5" fill="none" stroke="#c9e0ea" stroke-width="0.8"/>
<polyline points="519,367.5 519,536" fill="none" stroke="#4a8db0" stroke-width="2.2"/>
<polyline points="519,367.5 519,536" fill="none" stroke="#c9e0ea" stroke-width="0.8"/>
<g transform="translate(105.3,279)" fill="none" stroke="#3a83a7"><path d="M-9.3,-13.7L-11.1,-11.4L-10.6,-7.2M-9.3,-13.7L-5.7,-10.9M-12.4,-0.3L-4.7,-0.3M-4.7,-1L0,-5.2M9.3,-13.7L11.1,-11.4L10.6,-7.2M9.3,-13.7L5.7,-10.9M12.4,-0.3L4.7,-0.3M4.7,-1L0,-5.2M-3.9,0.3A3.9,3.9 0 0 0 3.9,0.3" stroke-width="1"/><path d="M-10.1,-7.2L-10.1,-0.5M-5.7,-10.8L0,-10.6M10.1,-7.2L10.1,-0.5M5.7,-10.8L0,-10.6" stroke-width="1.5"/><path d="M-18.1,-6.7A6.7,6.7 0 0 1 -11.4,0M18.1,-6.7A6.7,6.7 0 0 0 11.4,0" stroke-width="0.7"/></g>
<g transform="translate(147.5,279)" fill="none" stroke="#3a83a7"><path d="M-9.3,-13.7L-11.1,-11.4L-10.6,-7.2M-9.3,-13.7L-5.7,-10.9M-12.4,-0.3L-4.7,-0.3M-4.7,-1L0,-5.2M9.3,-13.7L11.1,-11.4L10.6,-7.2M9.3,-13.7L5.7,-10.9M12.4,-0.3L4.7,-0.3M4.7,-1L0,-5.2M-3.9,0.3A3.9,3.9 0 0 0 3.9,0.3" stroke-width="1"/><path d="M-10.1,-7.2L-10.1,-0.5M-5.7,-10.8L0,-10.6M10.1,-7.2L10.1,-0.5M5.7,-10.8L0,-10.6" stroke-width="1.5"/><path d="M-18.1,-6.7A6.7,6.7 0 0 1 -11.4,0M18.1,-6.7A6.7,6.7 0 0 0 11.4,0" stroke-width="0.7"/></g>
<g transform="translate(188.6,279)" fill="none" stroke="#3a83a7"><path d="M-9.3,-13.7L-11.1,-11.4L-10.6,-7.2M-9.3,-13.7L-5.7,-10.9M-12.4,-0.3L-4.7,-0.3M-4.7,-1L0,-5.2M9.3,-13.7L11.1,-11.4L10.6,-7.2M9.3,-13.7L5.7,-10.9M12.4,-0.3L4.7,-0.3M4.7,-1L0,-5.2M-3.9,0.3A3.9,3.9 0 0 0 3.9,0.3" stroke-width="1"/><path d="M-10.1,-7.2L-10.1,-0.5M-5.7,-10.8L0,-10.6M10.1,-7.2L10.1,-0.5M5.7,-10.8L0,-10.6" stroke-width="1.5"/><path d="M-18.1,-6.7A6.7,6.7 0 0 1 -11.4,0M18.1,-6.7A6.7,6.7 0 0 0 11.4,0" stroke-width="0.7"/></g>
<g transform="translate(249.6,279)" fill="none" stroke="#3a83a7"><path d="M-9.3,-13.7L-11.1,-11.4L-10.6,-7.2M-9.3,-13.7L-5.7,-10.9M-12.4,-0.3L-4.7,-0.3M-4.7,-1L0,-5.2M9.3,-13.7L11.1,-11.4L10.6,-7.2M9.3,-13.7L5.7,-10.9M12.4,-0.3L4.7,-0.3M4.7,-1L0,-5.2M-3.9,0.3A3.9,3.9 0 0 0 3.9,0.3" stroke-width="1"/><path d="M-10.1,-7.2L-10.1,-0.5M-5.7,-10.8L0,-10.6M10.1,-7.2L10.1,-0.5M5.7,-10.8L0,-10.6" stroke-width="1.5"/><path d="M-18.1,-6.7A6.7,6.7 0 0 1 -11.4,0M18.1,-6.7A6.7,6.7 0 0 0 11.4,0" stroke-width="0.7"/></g>
<g transform="translate(361.5,279)" fill="none" stroke="#3a83a7"><path d="M-9.3,-13.7L-11.1,-11.4L-10.6,-7.2M-9.3,-13.7L-5.7,-10.9M-12.4,-0.3L-4.7,-0.3M-4.7,-1L0,-5.2M9.3,-13.7L11.1,-11.4L10.6,-7.2M9.3,-13.7L5.7,-10.9M12.4,-0.3L4.7,-0.3M4.7,-1L0,-5.2M-3.9,0.3A3.9,3.9 0 0 0 3.9,0.3" stroke-width="1"/><path d="M-10.1,-7.2L-10.1,-0.5M-5.7,-10.8L0,-10.6M10.1,-7.2L10.1,-0.5M5.7,-10.8L0,-10.6" stroke-width="1.5"/><path d="M-18.1,-6.7A6.7,6.7 0 0 1 -11.4,0M18.1,-6.7A6.7,6.7 0 0 0 11.4,0" stroke-width="0.7"/></g>
<g transform="translate(445,279)" fill="none" stroke="#3a83a7"><path d="M-9.3,-13.7L-11.1,-11.4L-10.6,-7.2M-9.3,-13.7L-5.7,-10.9M-12.4,-0.3L-4.7,-0.3M-4.7,-1L0,-5.2M9.3,-13.7L11.1,-11.4L10.6,-7.2M9.3,-13.7L5.7,-10.9M12.4,-0.3L4.7,-0.3M4.7,-1L0,-5.2M-3.9,0.3A3.9,3.9 0 0 0 3.9,0.3" stroke-width="1"/><path d="M-10.1,-7.2L-10.1,-0.5M-5.7,-10.8L0,-10.6M10.1,-7.2L10.1,-0.5M5.7,-10.8L0,-10.6" stroke-width="1.5"/><path d="M-18.1,-6.7A6.7,6.7 0 0 1 -11.4,0M18.1,-6.7A6.7,6.7 0 0 0 11.4,0" stroke-width="0.7"/></g>
<g transform="translate(289.7,279)" fill="none" stroke="#3a83a7"><path d="M-9.3,-13.7L-11.1,-11.4L-10.6,-7.2M-9.3,-13.7L-5.7,-10.9M-12.4,-0.3L-4.7,-0.3M-4.7,-1L0,-5.2" stroke-width="1"/><path d="M-10.1,-7.2L-10.1,-0.5M-5.7,-10.8L0,-10.6" stroke-width="1.5"/><path d="M-18.1,-6.7A6.7,6.7 0 0 1 -11.4,0" stroke-width="0.7"/></g>
<g transform="translate(310,279)" fill="none" stroke="#3a83a7"><path d="M-9.3,-13.7L-11.1,-11.4L-10.6,-7.2M-9.3,-13.7L-5.7,-10.9M-12.4,-0.3L-4.7,-0.3M-4.7,-1L0,-5.2" stroke-width="1"/><path d="M-10.1,-7.2L-10.1,-0.5M-5.7,-10.8L0,-10.6" stroke-width="1.5"/><path d="M-18.1,-6.7A6.7,6.7 0 0 1 -11.4,0" stroke-width="0.7"/></g>
<g transform="translate(188.6,290.3) scale(1,-1)" fill="none" stroke="#3a83a7"><path d="M-9.3,-13.7L-11.1,-11.4L-10.6,-7.2M-9.3,-13.7L-5.7,-10.9M-12.4,-0.3L-4.7,-0.3M-4.7,-1L0,-5.2M9.3,-13.7L11.1,-11.4L10.6,-7.2M9.3,-13.7L5.7,-10.9M12.4,-0.3L4.7,-0.3M4.7,-1L0,-5.2M-3.9,0.3A3.9,3.9 0 0 0 3.9,0.3" stroke-width="1"/><path d="M-10.1,-7.2L-10.1,-0.5M-5.7,-10.8L0,-10.6M10.1,-7.2L10.1,-0.5M5.7,-10.8L0,-10.6" stroke-width="1.5"/><path d="M-18.1,-6.7A6.7,6.7 0 0 1 -11.4,0M18.1,-6.7A6.7,6.7 0 0 0 11.4,0" stroke-width="0.7"/></g>
<g transform="translate(361.5,290.3) scale(1,-1)" fill="none" stroke="#3a83a7"><path d="M-9.3,-13.7L-11.1,-11.4L-10.6,-7.2M-9.3,-13.7L-5.7,-10.9M-12.4,-0.3L-4.7,-0.3M-4.7,-1L0,-5.2M9.3,-13.7L11.1,-11.4L10.6,-7.2M9.3,-13.7L5.7,-10.9M12.4,-0.3L4.7,-0.3M4.7,-1L0,-5.2M-3.9,0.3A3.9,3.9 0 0 0 3.9,0.3" stroke-width="1"/><path d="M-10.1,-7.2L-10.1,-0.5M-5.7,-10.8L0,-10.6M10.1,-7.2L10.1,-0.5M5.7,-10.8L0,-10.6" stroke-width="1.5"/><path d="M-18.1,-6.7A6.7,6.7 0 0 1 -11.4,0M18.1,-6.7A6.7,6.7 0 0 0 11.4,0" stroke-width="0.7"/></g>
<g transform="translate(403,290.3) scale(1,-1)" fill="none" stroke="#3a83a7"><path d="M-9.3,-13.7L-11.1,-11.4L-10.6,-7.2M-9.3,-13.7L-5.7,-10.9M-12.4,-0.3L-4.7,-0.3M-4.7,-1L0,-5.2M9.3,-13.7L11.1,-11.4L10.6,-7.2M9.3,-13.7L5.7,-10.9M12.4,-0.3L4.7,-0.3M4.7,-1L0,-5.2M-3.9,0.3A3.9,3.9 0 0 0 3.9,0.3" stroke-width="1"/><path d="M-10.1,-7.2L-10.1,-0.5M-5.7,-10.8L0,-10.6M10.1,-7.2L10.1,-0.5M5.7,-10.8L0,-10.6" stroke-width="1.5"/><path d="M-18.1,-6.7A6.7,6.7 0 0 1 -11.4,0M18.1,-6.7A6.7,6.7 0 0 0 11.4,0" stroke-width="0.7"/></g>
<g transform="translate(445,290.3) scale(1,-1)" fill="none" stroke="#3a83a7"><path d="M-9.3,-13.7L-11.1,-11.4L-10.6,-7.2M-9.3,-13.7L-5.7,-10.9M-12.4,-0.3L-4.7,-0.3M-4.7,-1L0,-5.2M9.3,-13.7L11.1,-11.4L10.6,-7.2M9.3,-13.7L5.7,-10.9M12.4,-0.3L4.7,-0.3M4.7,-1L0,-5.2M-3.9,0.3A3.9,3.9 0 0 0 3.9,0.3" stroke-width="1"/><path d="M-10.1,-7.2L-10.1,-0.5M-5.7,-10.8L0,-10.6M10.1,-7.2L10.1,-0.5M5.7,-10.8L0,-10.6" stroke-width="1.5"/><path d="M-18.1,-6.7A6.7,6.7 0 0 1 -11.4,0M18.1,-6.7A6.7,6.7 0 0 0 11.4,0" stroke-width="0.7"/></g>
<g transform="translate(229,290.3) scale(1,-1)" fill="none" stroke="#3a83a7"><path d="M9.3,-13.7L11.1,-11.4L10.6,-7.2M9.3,-13.7L5.7,-10.9M12.4,-0.3L4.7,-0.3M4.7,-1L0,-5.2" stroke-width="1"/><path d="M10.1,-7.2L10.1,-0.5M5.7,-10.8L0,-10.6" stroke-width="1.5"/><path d="M18.1,-6.7A6.7,6.7 0 0 0 11.4,0" stroke-width="0.7"/></g>
<g transform="translate(72,289) rotate(-90)" fill="none" stroke="#3a83a7"><path d="M-9.3,-13.7L-11.1,-11.4L-10.6,-7.2M-9.3,-13.7L-5.7,-10.9M-12.4,-0.3L-4.7,-0.3M-4.7,-1L0,-5.2M9.3,-13.7L11.1,-11.4L10.6,-7.2M9.3,-13.7L5.7,-10.9M12.4,-0.3L4.7,-0.3M4.7,-1L0,-5.2M-3.9,0.3A3.9,3.9 0 0 0 3.9,0.3" stroke-width="1"/><path d="M-10.1,-7.2L-10.1,-0.5M-5.7,-10.8L0,-10.6M10.1,-7.2L10.1,-0.5M5.7,-10.8L0,-10.6" stroke-width="1.5"/><path d="M-18.1,-6.7A6.7,6.7 0 0 1 -11.4,0M18.1,-6.7A6.7,6.7 0 0 0 11.4,0" stroke-width="0.7"/></g>
<g transform="translate(72,330) rotate(-90)" fill="none" stroke="#3a83a7"><path d="M-9.3,-13.7L-11.1,-11.4L-10.6,-7.2M-9.3,-13.7L-5.7,-10.9M-12.4,-0.3L-4.7,-0.3M-4.7,-1L0,-5.2M9.3,-13.7L11.1,-11.4L10.6,-7.2M9.3,-13.7L5.7,-10.9M12.4,-0.3L4.7,-0.3M4.7,-1L0,-5.2M-3.9,0.3A3.9,3.9 0 0 0 3.9,0.3" stroke-width="1"/><path d="M-10.1,-7.2L-10.1,-0.5M-5.7,-10.8L0,-10.6M10.1,-7.2L10.1,-0.5M5.7,-10.8L0,-10.6" stroke-width="1.5"/><path d="M-18.1,-6.7A6.7,6.7 0 0 1 -11.4,0M18.1,-6.7A6.7,6.7 0 0 0 11.4,0" stroke-width="0.7"/></g>
<g transform="translate(72,370.3) rotate(-90)" fill="none" stroke="#3a83a7"><path d="M-9.3,-13.7L-11.1,-11.4L-10.6,-7.2M-9.3,-13.7L-5.7,-10.9M-12.4,-0.3L-4.7,-0.3M-4.7,-1L0,-5.2M9.3,-13.7L11.1,-11.4L10.6,-7.2M9.3,-13.7L5.7,-10.9M12.4,-0.3L4.7,-0.3M4.7,-1L0,-5.2M-3.9,0.3A3.9,3.9 0 0 0 3.9,0.3" stroke-width="1"/><path d="M-10.1,-7.2L-10.1,-0.5M-5.7,-10.8L0,-10.6M10.1,-7.2L10.1,-0.5M5.7,-10.8L0,-10.6" stroke-width="1.5"/><path d="M-18.1,-6.7A6.7,6.7 0 0 1 -11.4,0M18.1,-6.7A6.7,6.7 0 0 0 11.4,0" stroke-width="0.7"/></g>
<g transform="translate(72,410) rotate(-90)" fill="none" stroke="#3a83a7"><path d="M-9.3,-13.7L-11.1,-11.4L-10.6,-7.2M-9.3,-13.7L-5.7,-10.9M-12.4,-0.3L-4.7,-0.3M-4.7,-1L0,-5.2M9.3,-13.7L11.1,-11.4L10.6,-7.2M9.3,-13.7L5.7,-10.9M12.4,-0.3L4.7,-0.3M4.7,-1L0,-5.2M-3.9,0.3A3.9,3.9 0 0 0 3.9,0.3" stroke-width="1"/><path d="M-10.1,-7.2L-10.1,-0.5M-5.7,-10.8L0,-10.6M10.1,-7.2L10.1,-0.5M5.7,-10.8L0,-10.6" stroke-width="1.5"/><path d="M-18.1,-6.7A6.7,6.7 0 0 1 -11.4,0M18.1,-6.7A6.7,6.7 0 0 0 11.4,0" stroke-width="0.7"/></g>
<g transform="translate(288.7,371.8) rotate(-90)" fill="none" stroke="#3a83a7"><path d="M-9.3,-13.7L-11.1,-11.4L-10.6,-7.2M-9.3,-13.7L-5.7,-10.9M-12.4,-0.3L-4.7,-0.3M-4.7,-1L0,-5.2M9.3,-13.7L11.1,-11.4L10.6,-7.2M9.3,-13.7L5.7,-10.9M12.4,-0.3L4.7,-0.3M4.7,-1L0,-5.2M-3.9,0.3A3.9,3.9 0 0 0 3.9,0.3" stroke-width="1"/><path d="M-10.1,-7.2L-10.1,-0.5M-5.7,-10.8L0,-10.6M10.1,-7.2L10.1,-0.5M5.7,-10.8L0,-10.6" stroke-width="1.5"/><path d="M-18.1,-6.7A6.7,6.7 0 0 1 -11.4,0M18.1,-6.7A6.7,6.7 0 0 0 11.4,0" stroke-width="0.7"/></g>
<g transform="translate(288.7,455) rotate(-90)" fill="none" stroke="#3a83a7"><path d="M9.3,-13.7L11.1,-11.4L10.6,-7.2M9.3,-13.7L5.7,-10.9M12.4,-0.3L4.7,-0.3M4.7,-1L0,-5.2" stroke-width="1"/><path d="M10.1,-7.2L10.1,-0.5M5.7,-10.8L0,-10.6" stroke-width="1.5"/><path d="M18.1,-6.7A6.7,6.7 0 0 0 11.4,0" stroke-width="0.7"/></g>
<g transform="translate(301,392.5) rotate(90)" fill="none" stroke="#3a83a7"><path d="M-9.3,-13.7L-11.1,-11.4L-10.6,-7.2M-9.3,-13.7L-5.7,-10.9M-12.4,-0.3L-4.7,-0.3M-4.7,-1L0,-5.2M9.3,-13.7L11.1,-11.4L10.6,-7.2M9.3,-13.7L5.7,-10.9M12.4,-0.3L4.7,-0.3M4.7,-1L0,-5.2M-3.9,0.3A3.9,3.9 0 0 0 3.9,0.3" stroke-width="1"/><path d="M-10.1,-7.2L-10.1,-0.5M-5.7,-10.8L0,-10.6M10.1,-7.2L10.1,-0.5M5.7,-10.8L0,-10.6" stroke-width="1.5"/><path d="M-18.1,-6.7A6.7,6.7 0 0 1 -11.4,0M18.1,-6.7A6.7,6.7 0 0 0 11.4,0" stroke-width="0.7"/></g>
<g transform="translate(301,434.7) rotate(90)" fill="none" stroke="#3a83a7"><path d="M-9.3,-13.7L-11.1,-11.4L-10.6,-7.2M-9.3,-13.7L-5.7,-10.9M-12.4,-0.3L-4.7,-0.3M-4.7,-1L0,-5.2M9.3,-13.7L11.1,-11.4L10.6,-7.2M9.3,-13.7L5.7,-10.9M12.4,-0.3L4.7,-0.3M4.7,-1L0,-5.2M-3.9,0.3A3.9,3.9 0 0 0 3.9,0.3" stroke-width="1"/><path d="M-10.1,-7.2L-10.1,-0.5M-5.7,-10.8L0,-10.6M10.1,-7.2L10.1,-0.5M5.7,-10.8L0,-10.6" stroke-width="1.5"/><path d="M-18.1,-6.7A6.7,6.7 0 0 1 -11.4,0M18.1,-6.7A6.7,6.7 0 0 0 11.4,0" stroke-width="0.7"/></g>
<g transform="translate(510.5,155.3) rotate(-90)" fill="none" stroke="#3a83a7"><path d="M-9.3,-13.7L-11.1,-11.4L-10.6,-7.2M-9.3,-13.7L-5.7,-10.9M-12.4,-0.3L-4.7,-0.3M-4.7,-1L0,-5.2M9.3,-13.7L11.1,-11.4L10.6,-7.2M9.3,-13.7L5.7,-10.9M12.4,-0.3L4.7,-0.3M4.7,-1L0,-5.2M-3.9,0.3A3.9,3.9 0 0 0 3.9,0.3" stroke-width="1"/><path d="M-10.1,-7.2L-10.1,-0.5M-5.7,-10.8L0,-10.6M10.1,-7.2L10.1,-0.5M5.7,-10.8L0,-10.6" stroke-width="1.5"/><path d="M-18.1,-6.7A6.7,6.7 0 0 1 -11.4,0M18.1,-6.7A6.7,6.7 0 0 0 11.4,0" stroke-width="0.7"/></g>
<g transform="translate(531,155.3) rotate(90)" fill="none" stroke="#3a83a7"><path d="M-9.3,-13.7L-11.1,-11.4L-10.6,-7.2M-9.3,-13.7L-5.7,-10.9M-12.4,-0.3L-4.7,-0.3M-4.7,-1L0,-5.2M9.3,-13.7L11.1,-11.4L10.6,-7.2M9.3,-13.7L5.7,-10.9M12.4,-0.3L4.7,-0.3M4.7,-1L0,-5.2M-3.9,0.3A3.9,3.9 0 0 0 3.9,0.3" stroke-width="1"/><path d="M-10.1,-7.2L-10.1,-0.5M-5.7,-10.8L0,-10.6M10.1,-7.2L10.1,-0.5M5.7,-10.8L0,-10.6" stroke-width="1.5"/><path d="M-18.1,-6.7A6.7,6.7 0 0 1 -11.4,0M18.1,-6.7A6.7,6.7 0 0 0 11.4,0" stroke-width="0.7"/></g>
<g transform="translate(510.5,197.3) rotate(-90)" fill="none" stroke="#3a83a7"><path d="M-9.3,-13.7L-11.1,-11.4L-10.6,-7.2M-9.3,-13.7L-5.7,-10.9M-12.4,-0.3L-4.7,-0.3M-4.7,-1L0,-5.2M9.3,-13.7L11.1,-11.4L10.6,-7.2M9.3,-13.7L5.7,-10.9M12.4,-0.3L4.7,-0.3M4.7,-1L0,-5.2M-3.9,0.3A3.9,3.9 0 0 0 3.9,0.3" stroke-width="1"/><path d="M-10.1,-7.2L-10.1,-0.5M-5.7,-10.8L0,-10.6M10.1,-7.2L10.1,-0.5M5.7,-10.8L0,-10.6" stroke-width="1.5"/><path d="M-18.1,-6.7A6.7,6.7 0 0 1 -11.4,0M18.1,-6.7A6.7,6.7 0 0 0 11.4,0" stroke-width="0.7"/></g>
<g transform="translate(531,197.3) rotate(90)" fill="none" stroke="#3a83a7"><path d="M-9.3,-13.7L-11.1,-11.4L-10.6,-7.2M-9.3,-13.7L-5.7,-10.9M-12.4,-0.3L-4.7,-0.3M-4.7,-1L0,-5.2M9.3,-13.7L11.1,-11.4L10.6,-7.2M9.3,-13.7L5.7,-10.9M12.4,-0.3L4.7,-0.3M4.7,-1L0,-5.2M-3.9,0.3A3.9,3.9 0 0 0 3.9,0.3" stroke-width="1"/><path d="M-10.1,-7.2L-10.1,-0.5M-5.7,-10.8L0,-10.6M10.1,-7.2L10.1,-0.5M5.7,-10.8L0,-10.6" stroke-width="1.5"/><path d="M-18.1,-6.7A6.7,6.7 0 0 1 -11.4,0M18.1,-6.7A6.7,6.7 0 0 0 11.4,0" stroke-width="0.7"/></g>
<g transform="translate(531,218.5) rotate(90)" fill="none" stroke="#3a83a7"><path d="M9.3,-13.7L11.1,-11.4L10.6,-7.2M9.3,-13.7L5.7,-10.9M12.4,-0.3L4.7,-0.3M4.7,-1L0,-5.2" stroke-width="1"/><path d="M10.1,-7.2L10.1,-0.5M5.7,-10.8L0,-10.6" stroke-width="1.5"/><path d="M18.1,-6.7A6.7,6.7 0 0 0 11.4,0" stroke-width="0.7"/></g>
<g transform="translate(508.8,390.6) rotate(-90)" fill="none" stroke="#3a83a7"><path d="M-9.3,-13.7L-11.1,-11.4L-10.6,-7.2M-9.3,-13.7L-5.7,-10.9M-12.4,-0.3L-4.7,-0.3M-4.7,-1L0,-5.2M9.3,-13.7L11.1,-11.4L10.6,-7.2M9.3,-13.7L5.7,-10.9M12.4,-0.3L4.7,-0.3M4.7,-1L0,-5.2M-3.9,0.3A3.9,3.9 0 0 0 3.9,0.3" stroke-width="1"/><path d="M-10.1,-7.2L-10.1,-0.5M-5.7,-10.8L0,-10.6M10.1,-7.2L10.1,-0.5M5.7,-10.8L0,-10.6" stroke-width="1.5"/><path d="M-18.1,-6.7A6.7,6.7 0 0 1 -11.4,0M18.1,-6.7A6.7,6.7 0 0 0 11.4,0" stroke-width="0.7"/></g>
<g transform="translate(530,390.6) rotate(90)" fill="none" stroke="#3a83a7"><path d="M-9.3,-13.7L-11.1,-11.4L-10.6,-7.2M-9.3,-13.7L-5.7,-10.9M-12.4,-0.3L-4.7,-0.3M-4.7,-1L0,-5.2M9.3,-13.7L11.1,-11.4L10.6,-7.2M9.3,-13.7L5.7,-10.9M12.4,-0.3L4.7,-0.3M4.7,-1L0,-5.2M-3.9,0.3A3.9,3.9 0 0 0 3.9,0.3" stroke-width="1"/><path d="M-10.1,-7.2L-10.1,-0.5M-5.7,-10.8L0,-10.6M10.1,-7.2L10.1,-0.5M5.7,-10.8L0,-10.6" stroke-width="1.5"/><path d="M-18.1,-6.7A6.7,6.7 0 0 1 -11.4,0M18.1,-6.7A6.7,6.7 0 0 0 11.4,0" stroke-width="0.7"/></g>
<g transform="translate(508.8,431.5) rotate(-90)" fill="none" stroke="#3a83a7"><path d="M-9.3,-13.7L-11.1,-11.4L-10.6,-7.2M-9.3,-13.7L-5.7,-10.9M-12.4,-0.3L-4.7,-0.3M-4.7,-1L0,-5.2M9.3,-13.7L11.1,-11.4L10.6,-7.2M9.3,-13.7L5.7,-10.9M12.4,-0.3L4.7,-0.3M4.7,-1L0,-5.2M-3.9,0.3A3.9,3.9 0 0 0 3.9,0.3" stroke-width="1"/><path d="M-10.1,-7.2L-10.1,-0.5M-5.7,-10.8L0,-10.6M10.1,-7.2L10.1,-0.5M5.7,-10.8L0,-10.6" stroke-width="1.5"/><path d="M-18.1,-6.7A6.7,6.7 0 0 1 -11.4,0M18.1,-6.7A6.7,6.7 0 0 0 11.4,0" stroke-width="0.7"/></g>
<g transform="translate(530,431.5) rotate(90)" fill="none" stroke="#3a83a7"><path d="M-9.3,-13.7L-11.1,-11.4L-10.6,-7.2M-9.3,-13.7L-5.7,-10.9M-12.4,-0.3L-4.7,-0.3M-4.7,-1L0,-5.2M9.3,-13.7L11.1,-11.4L10.6,-7.2M9.3,-13.7L5.7,-10.9M12.4,-0.3L4.7,-0.3M4.7,-1L0,-5.2M-3.9,0.3A3.9,3.9 0 0 0 3.9,0.3" stroke-width="1"/><path d="M-10.1,-7.2L-10.1,-0.5M-5.7,-10.8L0,-10.6M10.1,-7.2L10.1,-0.5M5.7,-10.8L0,-10.6" stroke-width="1.5"/><path d="M-18.1,-6.7A6.7,6.7 0 0 1 -11.4,0M18.1,-6.7A6.7,6.7 0 0 0 11.4,0" stroke-width="0.7"/></g>
<g transform="translate(508.8,473) rotate(-90)" fill="none" stroke="#3a83a7"><path d="M-9.3,-13.7L-11.1,-11.4L-10.6,-7.2M-9.3,-13.7L-5.7,-10.9M-12.4,-0.3L-4.7,-0.3M-4.7,-1L0,-5.2M9.3,-13.7L11.1,-11.4L10.6,-7.2M9.3,-13.7L5.7,-10.9M12.4,-0.3L4.7,-0.3M4.7,-1L0,-5.2M-3.9,0.3A3.9,3.9 0 0 0 3.9,0.3" stroke-width="1"/><path d="M-10.1,-7.2L-10.1,-0.5M-5.7,-10.8L0,-10.6M10.1,-7.2L10.1,-0.5M5.7,-10.8L0,-10.6" stroke-width="1.5"/><path d="M-18.1,-6.7A6.7,6.7 0 0 1 -11.4,0M18.1,-6.7A6.7,6.7 0 0 0 11.4,0" stroke-width="0.7"/></g>
<g transform="translate(530,473) rotate(90)" fill="none" stroke="#3a83a7"><path d="M-9.3,-13.7L-11.1,-11.4L-10.6,-7.2M-9.3,-13.7L-5.7,-10.9M-12.4,-0.3L-4.7,-0.3M-4.7,-1L0,-5.2M9.3,-13.7L11.1,-11.4L10.6,-7.2M9.3,-13.7L5.7,-10.9M12.4,-0.3L4.7,-0.3M4.7,-1L0,-5.2M-3.9,0.3A3.9,3.9 0 0 0 3.9,0.3" stroke-width="1"/><path d="M-10.1,-7.2L-10.1,-0.5M-5.7,-10.8L0,-10.6M10.1,-7.2L10.1,-0.5M5.7,-10.8L0,-10.6" stroke-width="1.5"/><path d="M-18.1,-6.7A6.7,6.7 0 0 1 -11.4,0M18.1,-6.7A6.7,6.7 0 0 0 11.4,0" stroke-width="0.7"/></g>
<g transform="translate(789,328.2) rotate(-90)" fill="none" stroke="#3a83a7"><path d="M-9.3,-13.7L-11.1,-11.4L-10.6,-7.2M-9.3,-13.7L-5.7,-10.9M-12.4,-0.3L-4.7,-0.3M-4.7,-1L0,-5.2M9.3,-13.7L11.1,-11.4L10.6,-7.2M9.3,-13.7L5.7,-10.9M12.4,-0.3L4.7,-0.3M4.7,-1L0,-5.2M-3.9,0.3A3.9,3.9 0 0 0 3.9,0.3" stroke-width="1"/><path d="M-10.1,-7.2L-10.1,-0.5M-5.7,-10.8L0,-10.6M10.1,-7.2L10.1,-0.5M5.7,-10.8L0,-10.6" stroke-width="1.5"/><path d="M-18.1,-6.7A6.7,6.7 0 0 1 -11.4,0M18.1,-6.7A6.7,6.7 0 0 0 11.4,0" stroke-width="0.7"/></g>
<g transform="translate(789,418) rotate(-90)" fill="none" stroke="#3a83a7"><path d="M-9.3,-13.7L-11.1,-11.4L-10.6,-7.2M-9.3,-13.7L-5.7,-10.9M-12.4,-0.3L-4.7,-0.3M-4.7,-1L0,-5.2M9.3,-13.7L11.1,-11.4L10.6,-7.2M9.3,-13.7L5.7,-10.9M12.4,-0.3L4.7,-0.3M4.7,-1L0,-5.2M-3.9,0.3A3.9,3.9 0 0 0 3.9,0.3" stroke-width="1"/><path d="M-10.1,-7.2L-10.1,-0.5M-5.7,-10.8L0,-10.6M10.1,-7.2L10.1,-0.5M5.7,-10.8L0,-10.6" stroke-width="1.5"/><path d="M-18.1,-6.7A6.7,6.7 0 0 1 -11.4,0M18.1,-6.7A6.7,6.7 0 0 0 11.4,0" stroke-width="0.7"/></g>
<g transform="translate(800.8,328.2) rotate(90)" fill="none" stroke="#3a83a7"><path d="M-9.3,-13.7L-11.1,-11.4L-10.6,-7.2M-9.3,-13.7L-5.7,-10.9M-12.4,-0.3L-4.7,-0.3M-4.7,-1L0,-5.2M9.3,-13.7L11.1,-11.4L10.6,-7.2M9.3,-13.7L5.7,-10.9M12.4,-0.3L4.7,-0.3M4.7,-1L0,-5.2M-3.9,0.3A3.9,3.9 0 0 0 3.9,0.3" stroke-width="1"/><path d="M-10.1,-7.2L-10.1,-0.5M-5.7,-10.8L0,-10.6M10.1,-7.2L10.1,-0.5M5.7,-10.8L0,-10.6" stroke-width="1.5"/><path d="M-18.1,-6.7A6.7,6.7 0 0 1 -11.4,0M18.1,-6.7A6.7,6.7 0 0 0 11.4,0" stroke-width="0.7"/></g>
<g transform="translate(800.8,374) rotate(90)" fill="none" stroke="#3a83a7"><path d="M-9.3,-13.7L-11.1,-11.4L-10.6,-7.2M-9.3,-13.7L-5.7,-10.9M-12.4,-0.3L-4.7,-0.3M-4.7,-1L0,-5.2M9.3,-13.7L11.1,-11.4L10.6,-7.2M9.3,-13.7L5.7,-10.9M12.4,-0.3L4.7,-0.3M4.7,-1L0,-5.2M-3.9,0.3A3.9,3.9 0 0 0 3.9,0.3" stroke-width="1"/><path d="M-10.1,-7.2L-10.1,-0.5M-5.7,-10.8L0,-10.6M10.1,-7.2L10.1,-0.5M5.7,-10.8L0,-10.6" stroke-width="1.5"/><path d="M-18.1,-6.7A6.7,6.7 0 0 1 -11.4,0M18.1,-6.7A6.7,6.7 0 0 0 11.4,0" stroke-width="0.7"/></g>
<g transform="translate(811.7,535.5) rotate(-90)" fill="none" stroke="#3a83a7"><path d="M-9.3,-13.7L-11.1,-11.4L-10.6,-7.2M-9.3,-13.7L-5.7,-10.9M-12.4,-0.3L-4.7,-0.3M-4.7,-1L0,-5.2M9.3,-13.7L11.1,-11.4L10.6,-7.2M9.3,-13.7L5.7,-10.9M12.4,-0.3L4.7,-0.3M4.7,-1L0,-5.2M-3.9,0.3A3.9,3.9 0 0 0 3.9,0.3" stroke-width="1"/><path d="M-10.1,-7.2L-10.1,-0.5M-5.7,-10.8L0,-10.6M10.1,-7.2L10.1,-0.5M5.7,-10.8L0,-10.6" stroke-width="1.5"/><path d="M-18.1,-6.7A6.7,6.7 0 0 1 -11.4,0M18.1,-6.7A6.7,6.7 0 0 0 11.4,0" stroke-width="0.7"/></g>
<g transform="translate(821.3,580) rotate(90)" fill="none" stroke="#3a83a7"><path d="M-9.3,-13.7L-11.1,-11.4L-10.6,-7.2M-9.3,-13.7L-5.7,-10.9M-12.4,-0.3L-4.7,-0.3M-4.7,-1L0,-5.2" stroke-width="1"/><path d="M-10.1,-7.2L-10.1,-0.5M-5.7,-10.8L0,-10.6" stroke-width="1.5"/><path d="M-18.1,-6.7A6.7,6.7 0 0 1 -11.4,0" stroke-width="0.7"/></g>
<g transform="translate(772.2,211) rotate(-90)" fill="none" stroke="#3a83a7"><path d="M-9.3,-13.7L-11.1,-11.4L-10.6,-7.2M-9.3,-13.7L-5.7,-10.9M-12.4,-0.3L-4.7,-0.3M-4.7,-1L0,-5.2M9.3,-13.7L11.1,-11.4L10.6,-7.2M9.3,-13.7L5.7,-10.9M12.4,-0.3L4.7,-0.3M4.7,-1L0,-5.2M-3.9,0.3A3.9,3.9 0 0 0 3.9,0.3" stroke-width="1"/><path d="M-10.1,-7.2L-10.1,-0.5M-5.7,-10.8L0,-10.6M10.1,-7.2L10.1,-0.5M5.7,-10.8L0,-10.6" stroke-width="1.5"/><path d="M-18.1,-6.7A6.7,6.7 0 0 1 -11.4,0M18.1,-6.7A6.7,6.7 0 0 0 11.4,0" stroke-width="0.7"/></g>
<g transform="translate(782.8,233) rotate(90)" fill="none" stroke="#3a83a7"><path d="M-9.3,-13.7L-11.1,-11.4L-10.6,-7.2M-9.3,-13.7L-5.7,-10.9M-12.4,-0.3L-4.7,-0.3M-4.7,-1L0,-5.2M9.3,-13.7L11.1,-11.4L10.6,-7.2M9.3,-13.7L5.7,-10.9M12.4,-0.3L4.7,-0.3M4.7,-1L0,-5.2M-3.9,0.3A3.9,3.9 0 0 0 3.9,0.3" stroke-width="1"/><path d="M-10.1,-7.2L-10.1,-0.5M-5.7,-10.8L0,-10.6M10.1,-7.2L10.1,-0.5M5.7,-10.8L0,-10.6" stroke-width="1.5"/><path d="M-18.1,-6.7A6.7,6.7 0 0 1 -11.4,0M18.1,-6.7A6.7,6.7 0 0 0 11.4,0" stroke-width="0.7"/></g>
<g transform="translate(601,300) scale(1,-1)" fill="none" stroke="#3a83a7"><path d="M9.3,-13.7L11.1,-11.4L10.6,-7.2M9.3,-13.7L5.7,-10.9M12.4,-0.3L4.7,-0.3M4.7,-1L0,-5.2" stroke-width="1"/><path d="M10.1,-7.2L10.1,-0.5M5.7,-10.8L0,-10.6" stroke-width="1.5"/><path d="M18.1,-6.7A6.7,6.7 0 0 0 11.4,0" stroke-width="0.7"/></g>
<g transform="translate(687.5,300) scale(1,-1)" fill="none" stroke="#3a83a7"><path d="M-9.3,-13.7L-11.1,-11.4L-10.6,-7.2M-9.3,-13.7L-5.7,-10.9M-12.4,-0.3L-4.7,-0.3M-4.7,-1L0,-5.2M9.3,-13.7L11.1,-11.4L10.6,-7.2M9.3,-13.7L5.7,-10.9M12.4,-0.3L4.7,-0.3M4.7,-1L0,-5.2M-3.9,0.3A3.9,3.9 0 0 0 3.9,0.3" stroke-width="1"/><path d="M-10.1,-7.2L-10.1,-0.5M-5.7,-10.8L0,-10.6M10.1,-7.2L10.1,-0.5M5.7,-10.8L0,-10.6" stroke-width="1.5"/><path d="M-18.1,-6.7A6.7,6.7 0 0 1 -11.4,0M18.1,-6.7A6.7,6.7 0 0 0 11.4,0" stroke-width="0.7"/></g>
<g transform="translate(638.5,289)" fill="none" stroke="#3a83a7"><path d="M9.3,-13.7L11.1,-11.4L10.6,-7.2M9.3,-13.7L5.7,-10.9M12.4,-0.3L4.7,-0.3M4.7,-1L0,-5.2" stroke-width="1"/><path d="M10.1,-7.2L10.1,-0.5M5.7,-10.8L0,-10.6" stroke-width="1.5"/><path d="M18.1,-6.7A6.7,6.7 0 0 0 11.4,0" stroke-width="0.7"/></g>
<g transform="translate(686,289)" fill="none" stroke="#3a83a7"><path d="M9.3,-13.7L11.1,-11.4L10.6,-7.2M9.3,-13.7L5.7,-10.9M12.4,-0.3L4.7,-0.3M4.7,-1L0,-5.2" stroke-width="1"/><path d="M10.1,-7.2L10.1,-0.5M5.7,-10.8L0,-10.6" stroke-width="1.5"/><path d="M18.1,-6.7A6.7,6.7 0 0 0 11.4,0" stroke-width="0.7"/></g>
<g transform="translate(827.7,473.5)" fill="none" stroke="#3a83a7"><path d="M9.3,-13.7L11.1,-11.4L10.6,-7.2M9.3,-13.7L5.7,-10.9M12.4,-0.3L4.7,-0.3M4.7,-1L0,-5.2" stroke-width="1"/><path d="M10.1,-7.2L10.1,-0.5M5.7,-10.8L0,-10.6" stroke-width="1.5"/><path d="M18.1,-6.7A6.7,6.7 0 0 0 11.4,0" stroke-width="0.7"/></g>
<g transform="translate(876.8,473.5)" fill="none" stroke="#3a83a7"><path d="M9.3,-13.7L11.1,-11.4L10.6,-7.2M9.3,-13.7L5.7,-10.9M12.4,-0.3L4.7,-0.3M4.7,-1L0,-5.2" stroke-width="1"/><path d="M10.1,-7.2L10.1,-0.5M5.7,-10.8L0,-10.6" stroke-width="1.5"/><path d="M18.1,-6.7A6.7,6.7 0 0 0 11.4,0" stroke-width="0.7"/></g>
<g transform="translate(890.7,483) scale(1,-1)" fill="none" stroke="#3a83a7"><path d="M-9.3,-13.7L-11.1,-11.4L-10.6,-7.2M-9.3,-13.7L-5.7,-10.9M-12.4,-0.3L-4.7,-0.3M-4.7,-1L0,-5.2M9.3,-13.7L11.1,-11.4L10.6,-7.2M9.3,-13.7L5.7,-10.9M12.4,-0.3L4.7,-0.3M4.7,-1L0,-5.2M-3.9,0.3A3.9,3.9 0 0 0 3.9,0.3" stroke-width="1"/><path d="M-10.1,-7.2L-10.1,-0.5M-5.7,-10.8L0,-10.6M10.1,-7.2L10.1,-0.5M5.7,-10.8L0,-10.6" stroke-width="1.5"/><path d="M-18.1,-6.7A6.7,6.7 0 0 1 -11.4,0M18.1,-6.7A6.7,6.7 0 0 0 11.4,0" stroke-width="0.7"/></g>
<g transform="translate(55,431) scale(1,-1)" fill="none" stroke="#3a83a7"><path d="M-9.3,-13.7L-11.1,-11.4L-10.6,-7.2M-9.3,-13.7L-5.7,-10.9M-12.4,-0.3L-4.7,-0.3M-4.7,-1L0,-5.2" stroke-width="1"/><path d="M-10.1,-7.2L-10.1,-0.5M-5.7,-10.8L0,-10.6" stroke-width="1.5"/><path d="M-18.1,-6.7A6.7,6.7 0 0 1 -11.4,0" stroke-width="0.7"/></g>
<g transform="translate(100,431) scale(1,-1)" fill="none" stroke="#3a83a7"><path d="M9.3,-13.7L11.1,-11.4L10.6,-7.2M9.3,-13.7L5.7,-10.9M12.4,-0.3L4.7,-0.3M4.7,-1L0,-5.2" stroke-width="1"/><path d="M10.1,-7.2L10.1,-0.5M5.7,-10.8L0,-10.6" stroke-width="1.5"/><path d="M18.1,-6.7A6.7,6.7 0 0 0 11.4,0" stroke-width="0.7"/></g>
<g transform="translate(271.4,456.5) scale(1,-1)" fill="none" stroke="#3a83a7"><path d="M-9.3,-13.7L-11.1,-11.4L-10.6,-7.2M-9.3,-13.7L-5.7,-10.9M-12.4,-0.3L-4.7,-0.3M-4.7,-1L0,-5.2" stroke-width="1"/><path d="M-10.1,-7.2L-10.1,-0.5M-5.7,-10.8L0,-10.6" stroke-width="1.5"/><path d="M-18.1,-6.7A6.7,6.7 0 0 1 -11.4,0" stroke-width="0.7"/></g>
<g transform="translate(318.5,456.5) scale(1,-1)" fill="none" stroke="#3a83a7"><path d="M9.3,-13.7L11.1,-11.4L10.6,-7.2M9.3,-13.7L5.7,-10.9M12.4,-0.3L4.7,-0.3M4.7,-1L0,-5.2" stroke-width="1"/><path d="M10.1,-7.2L10.1,-0.5M5.7,-10.8L0,-10.6" stroke-width="1.5"/><path d="M18.1,-6.7A6.7,6.7 0 0 0 11.4,0" stroke-width="0.7"/></g>
<path d="M321,257.2C324,255.5 329,255.5 332,257.5L326.8,263M68,251.3L63.3,256C66,258 70,258 73.5,256.6" fill="none" stroke="#3a83a7" stroke-width="0.8"/>
<rect x="127.6" y="295.4" width="14.1" height="16.5" fill="#fff" stroke="#4a8db0" stroke-width="1.1"/>
<path d="M129.6,297.4L139.7,308.9M139.7,297.4L129.6,308.9" stroke="#4a8db0" stroke-width="0.5" fill="none"/>
<line x1="128.6" y1="310.4" x2="140.7" y2="310.4" stroke="#9cc6d8" stroke-width="1.2"/>
<rect x="91.5" y="371.8" width="15" height="12.6" fill="#fff" stroke="#4a8db0" stroke-width="1.1"/>
<path d="M93.5,373.8L104.5,381.4M104.5,373.8L93.5,381.4" stroke="#4a8db0" stroke-width="0.5" fill="none"/>
<line x1="92.5" y1="382.9" x2="105.5" y2="382.9" stroke="#9cc6d8" stroke-width="1.2"/>
<rect x="302.2" y="300.8" width="17.1" height="17.9" fill="#fff" stroke="#4a8db0" stroke-width="1.1"/>
<path d="M304.2,302.8L317.3,315.7M317.3,302.8L304.2,315.7" stroke="#4a8db0" stroke-width="0.5" fill="none"/>
<line x1="303.2" y1="317.2" x2="318.3" y2="317.2" stroke="#9cc6d8" stroke-width="1.2"/>
<rect x="249" y="394.4" width="13.7" height="14.9" fill="#fff" stroke="#4a8db0" stroke-width="1.1"/>
<path d="M251,396.4L260.7,406.3M260.7,396.4L251,406.3" stroke="#4a8db0" stroke-width="0.5" fill="none"/>
<line x1="250" y1="407.8" x2="261.7" y2="407.8" stroke="#9cc6d8" stroke-width="1.2"/>
<rect x="532.3" y="315" width="13.5" height="15.8" fill="#fff" stroke="#4a8db0" stroke-width="1.1"/>
<path d="M534.3,317L543.8,327.8M543.8,317L534.3,327.8" stroke="#4a8db0" stroke-width="0.5" fill="none"/>
<line x1="533.3" y1="329.3" x2="544.8" y2="329.3" stroke="#9cc6d8" stroke-width="1.2"/>
<rect x="550" y="315" width="14.5" height="15.8" fill="#fff" stroke="#4a8db0" stroke-width="1.1"/>
<path d="M552,317L562.5,327.8M562.5,317L552,327.8" stroke="#4a8db0" stroke-width="0.5" fill="none"/>
<line x1="551" y1="329.3" x2="563.5" y2="329.3" stroke="#9cc6d8" stroke-width="1.2"/>
<rect x="733" y="272.5" width="20.4" height="16" fill="#fff" stroke="#4a8db0" stroke-width="1.1"/>
<path d="M735,274.5L751.4,285.5M751.4,274.5L735,285.5" stroke="#4a8db0" stroke-width="0.5" fill="none"/>
<line x1="734" y1="287" x2="752.4" y2="287" stroke="#9cc6d8" stroke-width="1.2"/>
<rect x="753.4" y="272.5" width="21.6" height="16" fill="#fff" stroke="#4a8db0" stroke-width="1.1"/>
<path d="M755.4,274.5L773,285.5M773,274.5L755.4,285.5" stroke="#4a8db0" stroke-width="0.5" fill="none"/>
<line x1="754.4" y1="287" x2="774" y2="287" stroke="#9cc6d8" stroke-width="1.2"/>
<rect x="146" y="305" width="23" height="26" fill="#fff" stroke="#4a8db0" stroke-width="0.9"/>
<path d="M148.3,306L148.3,330M150.6,306L150.6,330M152.9,306L152.9,330M155.2,306L155.2,330M157.5,306L157.5,330M159.8,306L159.8,330M162.1,306L162.1,330M164.4,306L164.4,330M166.7,306L166.7,330" stroke="#6aa5c0" stroke-width="0.45" fill="none"/>
<rect x="148" y="316.7" width="19" height="2.6" fill="#fff" stroke="#4a8db0" stroke-width="0.7"/>
<rect x="95" y="392" width="24" height="17" fill="#fff" stroke="#4a8db0" stroke-width="0.9"/>
<path d="M97.4,393L97.4,408M99.8,393L99.8,408M102.2,393L102.2,408M104.6,393L104.6,408M107,393L107,408M109.4,393L109.4,408M111.8,393L111.8,408M114.2,393L114.2,408M116.6,393L116.6,408" stroke="#6aa5c0" stroke-width="0.45" fill="none"/>
<rect x="97" y="399.2" width="20" height="2.6" fill="#fff" stroke="#4a8db0" stroke-width="0.7"/>
<rect x="321" y="311" width="20.5" height="17" fill="#fff" stroke="#4a8db0" stroke-width="0.9"/>
<path d="M323.3,312L323.3,327M325.6,312L325.6,327M327.8,312L327.8,327M330.1,312L330.1,327M332.4,312L332.4,327M334.7,312L334.7,327M336.9,312L336.9,327M339.2,312L339.2,327" stroke="#6aa5c0" stroke-width="0.45" fill="none"/>
<rect x="323" y="318.2" width="16.5" height="2.6" fill="#fff" stroke="#4a8db0" stroke-width="0.7"/>
<rect x="249" y="412.5" width="25" height="21.5" fill="#fff" stroke="#4a8db0" stroke-width="0.9"/>
<path d="M251.3,413.5L251.3,433M253.5,413.5L253.5,433M255.8,413.5L255.8,433M258.1,413.5L258.1,433M260.4,413.5L260.4,433M262.6,413.5L262.6,433M264.9,413.5L264.9,433M267.2,413.5L267.2,433M269.5,413.5L269.5,433M271.7,413.5L271.7,433" stroke="#6aa5c0" stroke-width="0.45" fill="none"/>
<rect x="251" y="421.9" width="21" height="2.6" fill="#fff" stroke="#4a8db0" stroke-width="0.7"/>
<rect x="544.8" y="262.3" width="19.7" height="22.7" fill="#fff" stroke="#4a8db0" stroke-width="0.9"/>
<path d="M547.3,263.3L547.3,284M549.7,263.3L549.7,284M552.2,263.3L552.2,284M554.6,263.3L554.6,284M557.1,263.3L557.1,284M559.6,263.3L559.6,284M562,263.3L562,284" stroke="#6aa5c0" stroke-width="0.45" fill="none"/>
<rect x="546.8" y="272.3" width="15.7" height="2.6" fill="#fff" stroke="#4a8db0" stroke-width="0.7"/>
<rect x="601" y="269.6" width="34" height="19.4" fill="#fff" stroke="#4a8db0" stroke-width="0.9"/>
<path d="M602,272L634,272M602,274.5L634,274.5M602,276.9L634,276.9M602,279.3L634,279.3M602,281.7L634,281.7M602,284.1L634,284.1M602,286.6L634,286.6" stroke="#6aa5c0" stroke-width="0.45" fill="none"/>
<rect x="616.7" y="271.6" width="2.6" height="15.4" fill="#fff" stroke="#4a8db0" stroke-width="0.7"/>
<rect x="731.5" y="234.6" width="31" height="24.8" fill="#fff" stroke="#4a8db0" stroke-width="0.9"/>
<path d="M732.5,236.9L761.5,236.9M732.5,239.1L761.5,239.1M732.5,241.4L761.5,241.4M732.5,243.6L761.5,243.6M732.5,245.9L761.5,245.9M732.5,248.1L761.5,248.1M732.5,250.4L761.5,250.4M732.5,252.6L761.5,252.6M732.5,254.9L761.5,254.9M732.5,257.1L761.5,257.1" stroke="#6aa5c0" stroke-width="0.45" fill="none"/>
<rect x="745.7" y="236.6" width="2.6" height="20.8" fill="#fff" stroke="#4a8db0" stroke-width="0.7"/>
<rect x="821.3" y="482.8" width="20" height="28.7" fill="#fff" stroke="#4a8db0" stroke-width="0.9"/>
<path d="M822.3,485L840.3,485M822.3,487.2L840.3,487.2M822.3,489.4L840.3,489.4M822.3,491.6L840.3,491.6M822.3,493.8L840.3,493.8M822.3,496L840.3,496M822.3,498.3L840.3,498.3M822.3,500.5L840.3,500.5M822.3,502.7L840.3,502.7M822.3,504.9L840.3,504.9M822.3,507.1L840.3,507.1M822.3,509.3L840.3,509.3" stroke="#6aa5c0" stroke-width="0.45" fill="none"/>
<rect x="830" y="484.8" width="2.6" height="24.7" fill="#fff" stroke="#4a8db0" stroke-width="0.7"/>
<g font-family="Liberation Sans" font-weight="bold" font-size="6.6" letter-spacing="0.12" fill="#242424" stroke="#242424" stroke-width="0.15" text-anchor="middle">
<text x="54.5" y="253.8">H9B</text>
<text x="95" y="258.3">H9C</text>
<text x="117" y="258.3">H9D</text>
<text x="138" y="258.3">H9E</text>
<text x="158" y="258.3">H10A</text>
<text x="178.5" y="258.3">H10B</text>
<text x="198.5" y="258.3">H10C</text>
<text x="218.5" y="249.8"><tspan x="218.5" dy="0">H10</tspan><tspan x="218.5" dy="8.5">Kitc-</tspan><tspan x="218.5" dy="8.5">hen</tspan></text>
<text x="239.5" y="258.3">I8B</text>
<text x="259.5" y="258.3">I8C</text>
<text x="279.5" y="258.3">I8D</text>
<text x="300.5" y="258.3">I8E</text>
<text x="326" y="250.8">I9A</text>
<text x="351" y="258.3">I9B</text>
<text x="371.5" y="258.3">I9C</text>
<text x="403" y="253.1"><tspan x="403" dy="0">I9</tspan><tspan x="403" dy="8.5">Kitchen</tspan></text>
<text x="434.5" y="258.3">A30D</text>
<text x="455.5" y="258.3">A30E</text>
<text x="469.8" y="258.1" text-anchor="start"><tspan x="469.8" dy="0">A30</tspan><tspan x="469.8" dy="8.5">Kitchen</tspan></text>
<text x="497" y="238.8">A31A</text>
<text x="48.5" y="281.3">H9A</text>
<text x="48" y="301.3">G10E</text>
<text x="48" y="321.3">G10D</text>
<text x="48" y="341.3">G10C</text>
<text x="48" y="361.8">G10B</text>
<text x="48" y="382.8">G10A</text>
<text x="48" y="403.3">G9E</text>
<text x="49" y="423.3">G9D</text>
<text x="94.5" y="332.3">G10F</text>
<text x="126" y="323.8">H9 Kitchen</text>
<text x="178.5" y="313.3">H10E</text>
<text x="198.5" y="313.3">H10D</text>
<text x="219" y="304.8"><tspan x="219" dy="0">H10</tspan><tspan x="219" dy="8.5">Kitc-</tspan><tspan x="219" dy="8.5">hen</tspan></text>
<text x="239.5" y="313.3">I8A</text>
<text x="265" y="300.6"><tspan x="265" dy="0">I8</tspan><tspan x="265" dy="8.5">Kitchen</tspan></text>
<text x="279.5" y="334.8">E11C</text>
<text x="351.5" y="313.3">I9F</text>
<text x="371.5" y="313.3">I9E</text>
<text x="392" y="313.3">I9D</text>
<text x="413" y="313.3">A30C</text>
<text x="434.5" y="313.3">A30B</text>
<text x="455.5" y="313.3">A30A</text>
<text x="486" y="313.3">A29</text>
<text x="103" y="363.3">G10 Kitchen</text>
<text x="103" y="423.3">G9A</text>
<text x="41.5" y="456.8">G9C</text>
<text x="77.5" y="463.3">G9 Kitchen</text>
<text x="112.3" y="456.8">G9B</text>
<text x="267" y="364.3">E11B</text>
<text x="267" y="384.3">E11A</text>
<text x="267" y="448.3">E10E</text>
<text x="260" y="483.3">E10D</text>
<text x="295" y="483.3">E10 Kitchen</text>
<text x="331" y="483.3">E10C</text>
<text x="321" y="362.3">E11 Kitchen</text>
<text x="323" y="384.3">E11D</text>
<text x="323" y="404.3">E11E</text>
<text x="323" y="426.3">E10A</text>
<text x="323" y="448.3">E10B</text>
<text x="494" y="118"><tspan x="494" dy="0">A31</tspan><tspan x="494" dy="8.5">Kitchen</tspan></text>
<text x="549" y="112"><tspan x="549" dy="0">A32</tspan><tspan x="549" dy="8.5">Kitchen</tspan></text>
<text x="488" y="147.4">A31E</text>
<text x="488" y="167.9">A31D</text>
<text x="488" y="188.9">A31C</text>
<text x="488" y="209.9">A31B</text>
<text x="555" y="147.4">A32A</text>
<text x="555" y="167.9">A32B</text>
<text x="555" y="188.9">A32C</text>
<text x="555" y="210.2">A32D</text>
<text x="555" y="229.9">A32E</text>
<text x="548" y="253.8">A32F</text>
<text x="495" y="354.3">A28</text>
<text x="552" y="354.3">A25</text>
<text x="487" y="382.8">A27F</text>
<text x="487" y="403.7">A27E</text>
<text x="487" y="423.8">A27D</text>
<text x="487" y="444.2">A27C</text>
<text x="487" y="465.1">A27B</text>
<text x="487" y="485.8">A27A</text>
<text x="550" y="382.8">A26A</text>
<text x="550" y="403.7">A26B</text>
<text x="550" y="423.8">A26C</text>
<text x="550" y="444.2">A26D</text>
<text x="550" y="465.1">A26E</text>
<text x="550" y="485.8">A26F</text>
<text x="492.5" y="512.8">A27 Kitchen</text>
<text x="546.5" y="511.3">A26Kitchen</text>
<text x="587" y="299.3">B123</text>
<text x="661" y="278.3">B124</text>
<text x="708" y="278.3">B125</text>
<text x="624" y="317.3">B122</text>
<text x="665" y="317.3">B121</text>
<text x="709" y="317.3">B120</text>
<text x="780" y="177.3">B102</text>
<text x="757" y="214.3">B101</text>
<text x="797" y="214.3">B103</text>
<text x="792" y="271.3">B104</text>
<text x="766" y="315.3">B119</text>
<text x="775" y="355.3">B118</text>
<text x="775" y="397.3">B117</text>
<text x="775" y="444.3">B116</text>
<text x="816" y="308.3">B105</text>
<text x="816" y="355.3">B106</text>
<text x="816" y="397.3">B107</text>
<text x="812" y="440.3">B107A</text>
<text x="852" y="462.3">B108</text>
<text x="903" y="462.3">B109</text>
<text x="869" y="501.3">B111</text>
<text x="912" y="501.3">B110</text>
<text x="796" y="516.3">B115</text>
<text x="796" y="560.3">B114</text>
<text x="799" y="594.3">B113</text>
<text x="836" y="560.3">B112</text>
</g>
</svg>
<div class="t" style="left:424px;top:42.5px;font-size:19.6px;">Station Road</div>
<div class="t" style="left:399.5px;top:599.5px;font-size:19.6px;letter-spacing:-0.2px;">Tufnell Park Fields</div>
<div style="position:absolute;left:606px;top:715px;width:12.2px;height:12.2px;background:#e9a1a1;border:0.6px solid rgba(0,0,0,0.18)"></div>
<div class="t" style="left:624.3px;top:715.5px;font-size:11.5px;line-height:14px;">Bronze Studio</div>
<div style="position:absolute;left:606px;top:738.6px;width:12.2px;height:12.2px;background:#cea4c5;border:0.6px solid rgba(0,0,0,0.18)"></div>
<div class="t" style="left:624.3px;top:739.1px;font-size:11.5px;line-height:14px;">Bronze Ensuite</div>
<div style="position:absolute;left:606px;top:762px;width:12.2px;height:12.2px;background:#aa9dd0;border:0.6px solid rgba(0,0,0,0.18)"></div>
<div class="t" style="left:624.3px;top:762.5px;font-size:11.5px;line-height:14px;">Silver Studio</div>
<div style="position:absolute;left:606px;top:785.6px;width:12.2px;height:12.2px;background:#97abd2;border:0.6px solid rgba(0,0,0,0.18)"></div>
<div class="t" style="left:624.3px;top:786.1px;font-size:11.5px;line-height:14px;">Silver Ensuite</div>
<div style="position:absolute;left:778px;top:715px;width:12.2px;height:12.2px;background:#9dcd9c;border:0.6px solid rgba(0,0,0,0.18)"></div>
<div class="t" style="left:796.3px;top:715.5px;font-size:11.5px;line-height:14px;">Gold Ensuite</div>
<div style="position:absolute;left:778px;top:738.6px;width:12.2px;height:12.2px;background:#fcc060;border:0.6px solid rgba(0,0,0,0.18)"></div>
<div class="t" style="left:796.3px;top:739.1px;font-size:11.5px;line-height:14px;">Kitchen</div>
<div style="position:absolute;left:881.4px;top:670.8px;width:9.4px;height:9.4px;background:#e9a1a1"></div>
<div class="t" style="left:895.7px;top:672.2px;font-size:6.0px;line-height:8px;">Bronze Studio</div>
<div style="position:absolute;left:881.4px;top:684.8px;width:9.4px;height:9.4px;background:#cea4c5"></div>
<div class="t" style="left:895.7px;top:686.2px;font-size:6.0px;line-height:8px;">Bronze Ensuite</div>
<div style="position:absolute;left:881.4px;top:698.9px;width:9.4px;height:9.4px;background:#aa9dd0"></div>
<div class="t" style="left:895.7px;top:700.3px;font-size:6.0px;line-height:8px;">Silver Studio</div>
<div style="position:absolute;left:881.4px;top:712.9px;width:9.4px;height:9.4px;background:#97abd2"></div>
<div class="t" style="left:895.7px;top:714.3px;font-size:6.0px;line-height:8px;">Silver Ensuite</div>
<div style="position:absolute;left:881.4px;top:727.0px;width:9.4px;height:9.4px;background:#9dcd9c"></div>
<div class="t" style="left:895.7px;top:728.4px;font-size:6.0px;line-height:8px;">Gold Ensuite</div>
<div style="position:absolute;left:881.4px;top:741.0px;width:9.4px;height:9.4px;background:#fcc060"></div>
<div class="t" style="left:895.7px;top:742.4px;font-size:6.0px;line-height:8px;">Kitchen</div>
<div class="t" style="left:30.5px;top:736px;font-size:23.5px;line-height:22px;color:#f7545c">N</div>
<svg style="position:absolute;left:0;top:0" width="967" height="819"><path d="M47.4,761.3 L48.5,777 A14.8,14.8 0 1 1 34,771.6 Z M37.3,777.8 A8.2,8.2 0 1 0 37.31,777.8 Z" fill="#f7545c" fill-rule="evenodd"/></svg>
<svg style="position:absolute;left:0;top:0;pointer-events:none" width="967" height="819"><defs><pattern id="wm" x="-8.2" y="15.3" width="33.8" height="22.05" patternUnits="userSpaceOnUse"><g transform="rotate(-9 10 4)"><text x="0.5" y="7" font-family="Liberation Sans" font-weight="bold" fill="#ec7a85" fill-opacity="0.55"><tspan font-size="5.6">U</tspan><tspan font-size="4.3" dx="1">UNIVK</tspan></text></g></pattern></defs><rect x="0" y="0" width="967" height="819" fill="url(#wm)"/></svg>
<div class="border"></div>
</body></html>
